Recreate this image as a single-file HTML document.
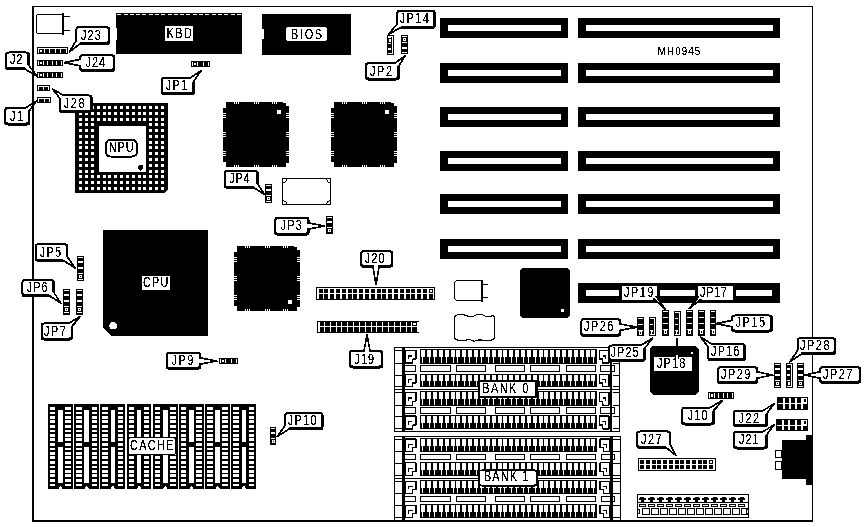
<!DOCTYPE html>
<html><head><meta charset="utf-8"><title>MH0945</title>
<style>
html,body{margin:0;padding:0;background:#fff;}
body{width:867px;height:527px;overflow:hidden;font-family:"Liberation Sans",sans-serif;}
svg{display:block;}
svg text{font-family:"Liberation Sans",sans-serif;fill:#000;}
</style></head><body>
<svg width="867" height="527" viewBox="0 0 867 527">
<defs><filter id="bw" x="0" y="0" width="100%" height="100%" filterUnits="userSpaceOnUse" color-interpolation-filters="sRGB"><feComponentTransfer><feFuncR type="discrete" tableValues="0 1"/><feFuncG type="discrete" tableValues="0 1"/><feFuncB type="discrete" tableValues="0 1"/></feComponentTransfer></filter>
<filter id="tw" x="0" y="0" width="100%" height="100%" filterUnits="userSpaceOnUse" color-interpolation-filters="sRGB"><feComponentTransfer><feFuncA type="discrete" tableValues="0 0 0 0 0 0 0 0 1 1 1 1 1 1 1 1 1 1 1 1"/></feComponentTransfer></filter></defs>
<g filter="url(#bw)">
<rect x="0" y="0" width="867" height="527" fill="#fff"/>
<rect x="32" y="6" width="781" height="1" fill="#000" />
<rect x="32" y="6" width="2" height="516" fill="#000" />
<rect x="812" y="6" width="1" height="516" fill="#000" />
<rect x="32" y="520" width="781" height="2" fill="#000" />
<rect x="440" y="18" width="128" height="20" fill="#000" />
<rect x="448" y="25" width="113" height="6" fill="#fff" />
<rect x="578" y="18" width="202" height="20" fill="#000" />
<rect x="586" y="25" width="187" height="6" fill="#fff" />
<rect x="440" y="63" width="128" height="20" fill="#000" />
<rect x="448" y="70" width="113" height="6" fill="#fff" />
<rect x="578" y="63" width="202" height="20" fill="#000" />
<rect x="586" y="70" width="187" height="6" fill="#fff" />
<rect x="440" y="107" width="128" height="20" fill="#000" />
<rect x="448" y="114" width="113" height="6" fill="#fff" />
<rect x="578" y="107" width="202" height="20" fill="#000" />
<rect x="586" y="114" width="187" height="6" fill="#fff" />
<rect x="440" y="151" width="128" height="20" fill="#000" />
<rect x="448" y="158" width="113" height="6" fill="#fff" />
<rect x="578" y="151" width="202" height="20" fill="#000" />
<rect x="586" y="158" width="187" height="6" fill="#fff" />
<rect x="440" y="194" width="128" height="20" fill="#000" />
<rect x="448" y="201" width="113" height="6" fill="#fff" />
<rect x="578" y="194" width="202" height="20" fill="#000" />
<rect x="586" y="201" width="187" height="6" fill="#fff" />
<rect x="440" y="239" width="128" height="20" fill="#000" />
<rect x="448" y="246" width="113" height="6" fill="#fff" />
<rect x="578" y="239" width="202" height="20" fill="#000" />
<rect x="586" y="246" width="187" height="6" fill="#fff" />
<rect x="578" y="283" width="202" height="20" fill="#000" />
<rect x="586" y="290" width="33" height="6" fill="#fff" />
<rect x="660" y="290" width="35" height="6" fill="#fff" />
<rect x="736" y="290" width="36" height="6" fill="#fff" />
<rect x="36.50" y="14.50" width="26.00" height="19.00" fill="#fff" stroke="#000" stroke-width="1" rx="1"/>
<rect x="62" y="13" width="2" height="22" fill="#000" />
<rect x="64" y="16" width="6" height="1" fill="#000" />
<rect x="64" y="30" width="6" height="1" fill="#000" />
<rect x="37" y="47" width="31" height="7" fill="#000" />
<rect x="38" y="48" width="29" height="1" fill="#fff" />
<rect x="38" y="48" width="1" height="5" fill="#fff" />
<rect x="44" y="48" width="1" height="5" fill="#fff" />
<rect x="49" y="48" width="1" height="5" fill="#fff" />
<rect x="55" y="48" width="1" height="5" fill="#fff" />
<rect x="60" y="48" width="1" height="5" fill="#fff" />
<rect x="66" y="48" width="1" height="5" fill="#fff" />
<rect x="40" y="50" width="2" height="2" fill="#fff" />
<rect x="37" y="60" width="26" height="6" fill="#000" />
<rect x="38" y="61" width="1" height="4" fill="#fff" />
<rect x="43" y="61" width="1" height="4" fill="#fff" />
<rect x="47" y="61" width="1" height="4" fill="#fff" />
<rect x="52" y="61" width="1" height="4" fill="#fff" />
<rect x="56" y="61" width="1" height="4" fill="#fff" />
<rect x="61" y="61" width="1" height="4" fill="#fff" />
<rect x="40" y="62" width="2" height="2" fill="#fff" />
<rect x="37" y="72" width="26" height="6" fill="#000" />
<rect x="38" y="73" width="1" height="4" fill="#fff" />
<rect x="43" y="73" width="1" height="4" fill="#fff" />
<rect x="47" y="73" width="1" height="4" fill="#fff" />
<rect x="52" y="73" width="1" height="4" fill="#fff" />
<rect x="56" y="73" width="1" height="4" fill="#fff" />
<rect x="61" y="73" width="1" height="4" fill="#fff" />
<rect x="40" y="74" width="2" height="2" fill="#fff" />
<rect x="37" y="85" width="13" height="6" fill="#000" />
<rect x="38" y="86" width="11" height="1" fill="#fff" />
<rect x="38" y="86" width="1" height="4" fill="#fff" />
<rect x="43" y="86" width="1" height="4" fill="#fff" />
<rect x="48" y="86" width="1" height="4" fill="#fff" />
<rect x="37" y="97" width="14" height="6" fill="#000" />
<rect x="38" y="98" width="12" height="1" fill="#fff" />
<rect x="38" y="98" width="1" height="4" fill="#fff" />
<rect x="44" y="98" width="1" height="4" fill="#fff" />
<rect x="49" y="98" width="1" height="4" fill="#fff" />
<rect x="191" y="61" width="19" height="6" fill="#000" />
<rect x="192" y="62" width="1" height="4" fill="#fff" />
<rect x="197" y="62" width="1" height="4" fill="#fff" />
<rect x="203" y="62" width="1" height="4" fill="#fff" />
<rect x="208" y="62" width="1" height="4" fill="#fff" />
<rect x="194" y="63" width="2" height="2" fill="#fff" />
<rect x="116" y="13" width="126" height="41" fill="#000" />
<rect x="117" y="14" width="4" height="1" fill="#fff" />
<rect x="124" y="14" width="4" height="1" fill="#fff" />
<rect x="130" y="14" width="4" height="1" fill="#fff" />
<rect x="136" y="14" width="4" height="1" fill="#fff" />
<rect x="142" y="14" width="4" height="1" fill="#fff" />
<rect x="149" y="14" width="4" height="1" fill="#fff" />
<rect x="155" y="14" width="4" height="1" fill="#fff" />
<rect x="161" y="14" width="4" height="1" fill="#fff" />
<rect x="168" y="14" width="4" height="1" fill="#fff" />
<rect x="174" y="14" width="4" height="1" fill="#fff" />
<rect x="180" y="14" width="4" height="1" fill="#fff" />
<rect x="186" y="14" width="4" height="1" fill="#fff" />
<rect x="193" y="14" width="4" height="1" fill="#fff" />
<rect x="199" y="14" width="4" height="1" fill="#fff" />
<rect x="205" y="14" width="4" height="1" fill="#fff" />
<rect x="212" y="14" width="4" height="1" fill="#fff" />
<rect x="218" y="14" width="4" height="1" fill="#fff" />
<rect x="224" y="14" width="4" height="1" fill="#fff" />
<rect x="231" y="14" width="4" height="1" fill="#fff" />
<rect x="237" y="14" width="4" height="1" fill="#fff" />
<rect x="116" y="28" width="1" height="12" fill="#fff" />
<rect x="262" y="14" width="89" height="41" fill="#000" />
<rect x="262" y="29" width="2" height="10" fill="#fff" />
<polygon points="75,103 168,103 168,189.5 165,192.6 75,192.6" fill="#000"/>
<rect x="99" y="126" width="47" height="46" fill="#fff" />
<rect x="79" y="106" width="3" height="3" fill="#fff"/>
<rect x="85" y="106" width="3" height="3" fill="#fff"/>
<rect x="91" y="106" width="3" height="3" fill="#fff"/>
<rect x="97" y="106" width="3" height="3" fill="#fff"/>
<rect x="103" y="106" width="3" height="3" fill="#fff"/>
<rect x="108" y="106" width="3" height="3" fill="#fff"/>
<rect x="114" y="106" width="3" height="3" fill="#fff"/>
<rect x="120" y="106" width="3" height="3" fill="#fff"/>
<rect x="126" y="106" width="3" height="3" fill="#fff"/>
<rect x="132" y="106" width="3" height="3" fill="#fff"/>
<rect x="138" y="106" width="3" height="3" fill="#fff"/>
<rect x="143" y="106" width="3" height="3" fill="#fff"/>
<rect x="149" y="106" width="3" height="3" fill="#fff"/>
<rect x="155" y="106" width="3" height="3" fill="#fff"/>
<rect x="161" y="106" width="3" height="3" fill="#fff"/>
<rect x="79" y="112" width="3" height="3" fill="#fff"/>
<rect x="85" y="112" width="3" height="3" fill="#fff"/>
<rect x="91" y="112" width="3" height="3" fill="#fff"/>
<rect x="97" y="112" width="3" height="3" fill="#fff"/>
<rect x="103" y="112" width="3" height="3" fill="#fff"/>
<rect x="108" y="112" width="3" height="3" fill="#fff"/>
<rect x="114" y="112" width="3" height="3" fill="#fff"/>
<rect x="120" y="112" width="3" height="3" fill="#fff"/>
<rect x="126" y="112" width="3" height="3" fill="#fff"/>
<rect x="132" y="112" width="3" height="3" fill="#fff"/>
<rect x="138" y="112" width="3" height="3" fill="#fff"/>
<rect x="143" y="112" width="3" height="3" fill="#fff"/>
<rect x="149" y="112" width="3" height="3" fill="#fff"/>
<rect x="155" y="112" width="3" height="3" fill="#fff"/>
<rect x="161" y="112" width="3" height="3" fill="#fff"/>
<rect x="79" y="118" width="3" height="3" fill="#fff"/>
<rect x="85" y="118" width="3" height="3" fill="#fff"/>
<rect x="91" y="118" width="3" height="3" fill="#fff"/>
<rect x="97" y="118" width="3" height="3" fill="#fff"/>
<rect x="103" y="118" width="3" height="3" fill="#fff"/>
<rect x="108" y="118" width="3" height="3" fill="#fff"/>
<rect x="114" y="118" width="3" height="3" fill="#fff"/>
<rect x="120" y="118" width="3" height="3" fill="#fff"/>
<rect x="126" y="118" width="3" height="3" fill="#fff"/>
<rect x="132" y="118" width="3" height="3" fill="#fff"/>
<rect x="138" y="118" width="3" height="3" fill="#fff"/>
<rect x="143" y="118" width="3" height="3" fill="#fff"/>
<rect x="149" y="118" width="3" height="3" fill="#fff"/>
<rect x="155" y="118" width="3" height="3" fill="#fff"/>
<rect x="161" y="118" width="3" height="3" fill="#fff"/>
<rect x="79" y="123" width="3" height="3" fill="#fff"/>
<rect x="85" y="123" width="3" height="3" fill="#fff"/>
<rect x="91" y="123" width="3" height="3" fill="#fff"/>
<rect x="149" y="123" width="3" height="3" fill="#fff"/>
<rect x="155" y="123" width="3" height="3" fill="#fff"/>
<rect x="161" y="123" width="3" height="3" fill="#fff"/>
<rect x="79" y="129" width="3" height="3" fill="#fff"/>
<rect x="85" y="129" width="3" height="3" fill="#fff"/>
<rect x="91" y="129" width="3" height="3" fill="#fff"/>
<rect x="149" y="129" width="3" height="3" fill="#fff"/>
<rect x="155" y="129" width="3" height="3" fill="#fff"/>
<rect x="161" y="129" width="3" height="3" fill="#fff"/>
<rect x="79" y="135" width="3" height="3" fill="#fff"/>
<rect x="85" y="135" width="3" height="3" fill="#fff"/>
<rect x="91" y="135" width="3" height="3" fill="#fff"/>
<rect x="149" y="135" width="3" height="3" fill="#fff"/>
<rect x="155" y="135" width="3" height="3" fill="#fff"/>
<rect x="161" y="135" width="3" height="3" fill="#fff"/>
<rect x="79" y="141" width="3" height="3" fill="#fff"/>
<rect x="85" y="141" width="3" height="3" fill="#fff"/>
<rect x="91" y="141" width="3" height="3" fill="#fff"/>
<rect x="149" y="141" width="3" height="3" fill="#fff"/>
<rect x="155" y="141" width="3" height="3" fill="#fff"/>
<rect x="161" y="141" width="3" height="3" fill="#fff"/>
<rect x="79" y="146" width="3" height="3" fill="#fff"/>
<rect x="85" y="146" width="3" height="3" fill="#fff"/>
<rect x="91" y="146" width="3" height="3" fill="#fff"/>
<rect x="149" y="146" width="3" height="3" fill="#fff"/>
<rect x="155" y="146" width="3" height="3" fill="#fff"/>
<rect x="161" y="146" width="3" height="3" fill="#fff"/>
<rect x="79" y="152" width="3" height="3" fill="#fff"/>
<rect x="85" y="152" width="3" height="3" fill="#fff"/>
<rect x="91" y="152" width="3" height="3" fill="#fff"/>
<rect x="149" y="152" width="3" height="3" fill="#fff"/>
<rect x="155" y="152" width="3" height="3" fill="#fff"/>
<rect x="161" y="152" width="3" height="3" fill="#fff"/>
<rect x="79" y="158" width="3" height="3" fill="#fff"/>
<rect x="85" y="158" width="3" height="3" fill="#fff"/>
<rect x="91" y="158" width="3" height="3" fill="#fff"/>
<rect x="149" y="158" width="3" height="3" fill="#fff"/>
<rect x="155" y="158" width="3" height="3" fill="#fff"/>
<rect x="161" y="158" width="3" height="3" fill="#fff"/>
<rect x="79" y="164" width="3" height="3" fill="#fff"/>
<rect x="85" y="164" width="3" height="3" fill="#fff"/>
<rect x="91" y="164" width="3" height="3" fill="#fff"/>
<rect x="149" y="164" width="3" height="3" fill="#fff"/>
<rect x="155" y="164" width="3" height="3" fill="#fff"/>
<rect x="161" y="164" width="3" height="3" fill="#fff"/>
<rect x="79" y="170" width="3" height="3" fill="#fff"/>
<rect x="85" y="170" width="3" height="3" fill="#fff"/>
<rect x="91" y="170" width="3" height="3" fill="#fff"/>
<rect x="149" y="170" width="3" height="3" fill="#fff"/>
<rect x="155" y="170" width="3" height="3" fill="#fff"/>
<rect x="161" y="170" width="3" height="3" fill="#fff"/>
<rect x="79" y="175" width="3" height="3" fill="#fff"/>
<rect x="85" y="175" width="3" height="3" fill="#fff"/>
<rect x="91" y="175" width="3" height="3" fill="#fff"/>
<rect x="97" y="175" width="3" height="3" fill="#fff"/>
<rect x="103" y="175" width="3" height="3" fill="#fff"/>
<rect x="108" y="175" width="3" height="3" fill="#fff"/>
<rect x="114" y="175" width="3" height="3" fill="#fff"/>
<rect x="120" y="175" width="3" height="3" fill="#fff"/>
<rect x="126" y="175" width="3" height="3" fill="#fff"/>
<rect x="132" y="175" width="3" height="3" fill="#fff"/>
<rect x="138" y="175" width="3" height="3" fill="#fff"/>
<rect x="143" y="175" width="3" height="3" fill="#fff"/>
<rect x="149" y="175" width="3" height="3" fill="#fff"/>
<rect x="155" y="175" width="3" height="3" fill="#fff"/>
<rect x="161" y="175" width="3" height="3" fill="#fff"/>
<rect x="79" y="181" width="3" height="3" fill="#fff"/>
<rect x="85" y="181" width="3" height="3" fill="#fff"/>
<rect x="91" y="181" width="3" height="3" fill="#fff"/>
<rect x="97" y="181" width="3" height="3" fill="#fff"/>
<rect x="103" y="181" width="3" height="3" fill="#fff"/>
<rect x="108" y="181" width="3" height="3" fill="#fff"/>
<rect x="114" y="181" width="3" height="3" fill="#fff"/>
<rect x="120" y="181" width="3" height="3" fill="#fff"/>
<rect x="126" y="181" width="3" height="3" fill="#fff"/>
<rect x="132" y="181" width="3" height="3" fill="#fff"/>
<rect x="138" y="181" width="3" height="3" fill="#fff"/>
<rect x="143" y="181" width="3" height="3" fill="#fff"/>
<rect x="149" y="181" width="3" height="3" fill="#fff"/>
<rect x="155" y="181" width="3" height="3" fill="#fff"/>
<rect x="161" y="181" width="3" height="3" fill="#fff"/>
<rect x="79" y="187" width="3" height="3" fill="#fff"/>
<rect x="85" y="187" width="3" height="3" fill="#fff"/>
<rect x="91" y="187" width="3" height="3" fill="#fff"/>
<rect x="97" y="187" width="3" height="3" fill="#fff"/>
<rect x="103" y="187" width="3" height="3" fill="#fff"/>
<rect x="108" y="187" width="3" height="3" fill="#fff"/>
<rect x="114" y="187" width="3" height="3" fill="#fff"/>
<rect x="120" y="187" width="3" height="3" fill="#fff"/>
<rect x="126" y="187" width="3" height="3" fill="#fff"/>
<rect x="132" y="187" width="3" height="3" fill="#fff"/>
<rect x="138" y="187" width="3" height="3" fill="#fff"/>
<rect x="143" y="187" width="3" height="3" fill="#fff"/>
<rect x="149" y="187" width="3" height="3" fill="#fff"/>
<rect x="155" y="187" width="3" height="3" fill="#fff"/>
<rect x="161" y="187" width="3" height="3" fill="#fff"/>
<polygon points="138.4,165.4 143.2,165.4 143.2,168.4 141.2,170.6 139.6,170.6 138.4,168.6" fill="#000"/>
<polygon points="226,102 283,102 283,103 286,103 286,106 289,106 289,163 286,163 286,167 226,167 226,162 223,162 223,108 226,108" fill="#000"/>
<rect x="234" y="102" width="1" height="2" fill="#fff" />
<rect x="234" y="165" width="1" height="2" fill="#fff" />
<rect x="223" y="113" width="3" height="1" fill="#fff" />
<rect x="286" y="113" width="3" height="1" fill="#fff" />
<rect x="236" y="102" width="1" height="2" fill="#fff" />
<rect x="236" y="165" width="1" height="2" fill="#fff" />
<rect x="223" y="115" width="3" height="1" fill="#fff" />
<rect x="286" y="115" width="3" height="1" fill="#fff" />
<rect x="238" y="102" width="1" height="2" fill="#fff" />
<rect x="238" y="165" width="1" height="2" fill="#fff" />
<rect x="223" y="117" width="3" height="1" fill="#fff" />
<rect x="286" y="117" width="3" height="1" fill="#fff" />
<rect x="254" y="102" width="1" height="2" fill="#fff" />
<rect x="254" y="165" width="1" height="2" fill="#fff" />
<rect x="223" y="132" width="3" height="1" fill="#fff" />
<rect x="286" y="132" width="3" height="1" fill="#fff" />
<rect x="256" y="102" width="1" height="2" fill="#fff" />
<rect x="256" y="165" width="1" height="2" fill="#fff" />
<rect x="223" y="134" width="3" height="1" fill="#fff" />
<rect x="286" y="134" width="3" height="1" fill="#fff" />
<rect x="258" y="102" width="1" height="2" fill="#fff" />
<rect x="258" y="165" width="1" height="2" fill="#fff" />
<rect x="223" y="136" width="3" height="1" fill="#fff" />
<rect x="286" y="136" width="3" height="1" fill="#fff" />
<rect x="272" y="102" width="1" height="2" fill="#fff" />
<rect x="272" y="165" width="1" height="2" fill="#fff" />
<rect x="223" y="151" width="3" height="1" fill="#fff" />
<rect x="286" y="151" width="3" height="1" fill="#fff" />
<rect x="274" y="102" width="1" height="2" fill="#fff" />
<rect x="274" y="165" width="1" height="2" fill="#fff" />
<rect x="223" y="153" width="3" height="1" fill="#fff" />
<rect x="286" y="153" width="3" height="1" fill="#fff" />
<rect x="276" y="102" width="1" height="2" fill="#fff" />
<rect x="276" y="165" width="1" height="2" fill="#fff" />
<rect x="223" y="155" width="3" height="1" fill="#fff" />
<rect x="286" y="155" width="3" height="1" fill="#fff" />
<rect x="277" y="110" width="4" height="4" fill="#fff" />
<polygon points="334,102 391,102 391,103 394,103 394,106 397,106 397,163 394,163 394,167 334,167 334,162 331,162 331,108 334,108" fill="#000"/>
<rect x="342" y="102" width="1" height="2" fill="#fff" />
<rect x="342" y="165" width="1" height="2" fill="#fff" />
<rect x="331" y="113" width="3" height="1" fill="#fff" />
<rect x="394" y="113" width="3" height="1" fill="#fff" />
<rect x="344" y="102" width="1" height="2" fill="#fff" />
<rect x="344" y="165" width="1" height="2" fill="#fff" />
<rect x="331" y="115" width="3" height="1" fill="#fff" />
<rect x="394" y="115" width="3" height="1" fill="#fff" />
<rect x="346" y="102" width="1" height="2" fill="#fff" />
<rect x="346" y="165" width="1" height="2" fill="#fff" />
<rect x="331" y="117" width="3" height="1" fill="#fff" />
<rect x="394" y="117" width="3" height="1" fill="#fff" />
<rect x="362" y="102" width="1" height="2" fill="#fff" />
<rect x="362" y="165" width="1" height="2" fill="#fff" />
<rect x="331" y="132" width="3" height="1" fill="#fff" />
<rect x="394" y="132" width="3" height="1" fill="#fff" />
<rect x="364" y="102" width="1" height="2" fill="#fff" />
<rect x="364" y="165" width="1" height="2" fill="#fff" />
<rect x="331" y="134" width="3" height="1" fill="#fff" />
<rect x="394" y="134" width="3" height="1" fill="#fff" />
<rect x="366" y="102" width="1" height="2" fill="#fff" />
<rect x="366" y="165" width="1" height="2" fill="#fff" />
<rect x="331" y="136" width="3" height="1" fill="#fff" />
<rect x="394" y="136" width="3" height="1" fill="#fff" />
<rect x="380" y="102" width="1" height="2" fill="#fff" />
<rect x="380" y="165" width="1" height="2" fill="#fff" />
<rect x="331" y="151" width="3" height="1" fill="#fff" />
<rect x="394" y="151" width="3" height="1" fill="#fff" />
<rect x="382" y="102" width="1" height="2" fill="#fff" />
<rect x="382" y="165" width="1" height="2" fill="#fff" />
<rect x="331" y="153" width="3" height="1" fill="#fff" />
<rect x="394" y="153" width="3" height="1" fill="#fff" />
<rect x="384" y="102" width="1" height="2" fill="#fff" />
<rect x="384" y="165" width="1" height="2" fill="#fff" />
<rect x="331" y="155" width="3" height="1" fill="#fff" />
<rect x="394" y="155" width="3" height="1" fill="#fff" />
<rect x="385" y="110" width="4" height="4" fill="#fff" />
<polygon points="237,246 294,246 294,247 297,247 297,250 300,250 300,307 297,307 297,311 237,311 237,306 234,306 234,252 237,252" fill="#000"/>
<rect x="245" y="246" width="1" height="2" fill="#fff" />
<rect x="245" y="309" width="1" height="2" fill="#fff" />
<rect x="234" y="257" width="3" height="1" fill="#fff" />
<rect x="297" y="257" width="3" height="1" fill="#fff" />
<rect x="247" y="246" width="1" height="2" fill="#fff" />
<rect x="247" y="309" width="1" height="2" fill="#fff" />
<rect x="234" y="259" width="3" height="1" fill="#fff" />
<rect x="297" y="259" width="3" height="1" fill="#fff" />
<rect x="249" y="246" width="1" height="2" fill="#fff" />
<rect x="249" y="309" width="1" height="2" fill="#fff" />
<rect x="234" y="261" width="3" height="1" fill="#fff" />
<rect x="297" y="261" width="3" height="1" fill="#fff" />
<rect x="265" y="246" width="1" height="2" fill="#fff" />
<rect x="265" y="309" width="1" height="2" fill="#fff" />
<rect x="234" y="276" width="3" height="1" fill="#fff" />
<rect x="297" y="276" width="3" height="1" fill="#fff" />
<rect x="267" y="246" width="1" height="2" fill="#fff" />
<rect x="267" y="309" width="1" height="2" fill="#fff" />
<rect x="234" y="278" width="3" height="1" fill="#fff" />
<rect x="297" y="278" width="3" height="1" fill="#fff" />
<rect x="269" y="246" width="1" height="2" fill="#fff" />
<rect x="269" y="309" width="1" height="2" fill="#fff" />
<rect x="234" y="280" width="3" height="1" fill="#fff" />
<rect x="297" y="280" width="3" height="1" fill="#fff" />
<rect x="283" y="246" width="1" height="2" fill="#fff" />
<rect x="283" y="309" width="1" height="2" fill="#fff" />
<rect x="234" y="295" width="3" height="1" fill="#fff" />
<rect x="297" y="295" width="3" height="1" fill="#fff" />
<rect x="285" y="246" width="1" height="2" fill="#fff" />
<rect x="285" y="309" width="1" height="2" fill="#fff" />
<rect x="234" y="297" width="3" height="1" fill="#fff" />
<rect x="297" y="297" width="3" height="1" fill="#fff" />
<rect x="287" y="246" width="1" height="2" fill="#fff" />
<rect x="287" y="309" width="1" height="2" fill="#fff" />
<rect x="234" y="299" width="3" height="1" fill="#fff" />
<rect x="297" y="299" width="3" height="1" fill="#fff" />
<rect x="288" y="300" width="4" height="4" fill="#fff" />
<rect x="282.50" y="178.50" width="48.00" height="26.00" fill="#fff" stroke="#000" stroke-width="1" rx="0"/>
<path d="M286.5,179 A3.5,3.5 0 0 1 283,182.5" stroke="#000" stroke-width="1" fill="none"/>
<path d="M326.5,179 A3.5,3.5 0 0 0 330,182.5" stroke="#000" stroke-width="1" fill="none"/>
<path d="M286.5,204 A3.5,3.5 0 0 0 283,200.5" stroke="#000" stroke-width="1" fill="none"/>
<path d="M326.5,204 A3.5,3.5 0 0 1 330,200.5" stroke="#000" stroke-width="1" fill="none"/>
<polygon points="103,230 208.2,230 208.2,336.2 112,336.2 103,327.5" fill="#000"/>
<circle cx="113.2" cy="325.8" r="3.8" fill="#fff"/>
<rect x="387" y="35" width="7" height="20" fill="#000" />
<rect x="388" y="53" width="3" height="1" fill="#fff" />
<rect x="388" y="48" width="3" height="2" fill="#fff" />
<rect x="388" y="43" width="3" height="1" fill="#fff" />
<rect x="389" y="39" width="2" height="3" fill="#fff" />
<rect x="388" y="37" width="3" height="1" fill="#fff" />
<rect x="392" y="36" width="1" height="18" fill="#fff" />
<rect x="388" y="36" width="5" height="1" fill="#fff" />
<rect x="388" y="53" width="5" height="1" fill="#fff" />
<rect x="401" y="35" width="7" height="19" fill="#000" />
<rect x="402" y="52" width="5" height="1" fill="#fff" />
<rect x="402" y="47" width="5" height="2" fill="#fff" />
<rect x="402" y="42" width="5" height="1" fill="#fff" />
<rect x="403" y="38" width="3" height="3" fill="#fff" />
<rect x="404" y="39" width="1" height="1" fill="#000" />
<rect x="402" y="36" width="5" height="1" fill="#fff" />
<rect x="265" y="184" width="7" height="19" fill="#000" />
<rect x="266" y="185" width="5" height="1" fill="#fff" />
<rect x="266" y="189" width="5" height="2" fill="#fff" />
<rect x="266" y="195" width="5" height="1" fill="#fff" />
<rect x="267" y="197" width="3" height="3" fill="#fff" />
<rect x="268" y="198" width="1" height="1" fill="#000" />
<rect x="266" y="201" width="5" height="1" fill="#fff" />
<rect x="326" y="216" width="7" height="18" fill="#000" />
<rect x="327" y="217" width="5" height="1" fill="#fff" />
<rect x="327" y="221" width="5" height="2" fill="#fff" />
<rect x="327" y="227" width="5" height="1" fill="#fff" />
<rect x="328" y="229" width="3" height="3" fill="#fff" />
<rect x="329" y="230" width="1" height="1" fill="#000" />
<rect x="77" y="256" width="7" height="25" fill="#000" />
<rect x="78" y="257" width="5" height="1" fill="#fff" />
<rect x="78" y="261" width="5" height="2" fill="#fff" />
<rect x="78" y="267" width="5" height="2" fill="#fff" />
<rect x="78" y="273" width="5" height="1" fill="#fff" />
<rect x="79" y="275" width="3" height="3" fill="#fff" />
<rect x="80" y="276" width="1" height="1" fill="#000" />
<rect x="78" y="279" width="5" height="1" fill="#fff" />
<rect x="63" y="289" width="7" height="26" fill="#000" />
<rect x="64" y="290" width="5" height="1" fill="#fff" />
<rect x="64" y="294" width="5" height="2" fill="#fff" />
<rect x="64" y="300" width="5" height="2" fill="#fff" />
<rect x="64" y="306" width="5" height="1" fill="#fff" />
<rect x="65" y="308" width="3" height="3" fill="#fff" />
<rect x="66" y="309" width="1" height="1" fill="#000" />
<rect x="64" y="312" width="5" height="1" fill="#fff" />
<rect x="76" y="289" width="7" height="26" fill="#000" />
<rect x="77" y="290" width="5" height="1" fill="#fff" />
<rect x="77" y="294" width="5" height="2" fill="#fff" />
<rect x="77" y="300" width="5" height="2" fill="#fff" />
<rect x="77" y="306" width="5" height="1" fill="#fff" />
<rect x="78" y="308" width="3" height="3" fill="#fff" />
<rect x="79" y="309" width="1" height="1" fill="#000" />
<rect x="77" y="312" width="5" height="1" fill="#fff" />
<rect x="219" y="358" width="19" height="6" fill="#000" />
<rect x="220" y="359" width="1" height="4" fill="#fff" />
<rect x="225" y="359" width="1" height="4" fill="#fff" />
<rect x="231" y="359" width="1" height="4" fill="#fff" />
<rect x="236" y="359" width="1" height="4" fill="#fff" />
<rect x="222" y="360" width="2" height="2" fill="#fff" />
<rect x="270" y="427" width="6" height="18" fill="#000" />
<rect x="271" y="428" width="4" height="1" fill="#fff" />
<rect x="271" y="432" width="4" height="2" fill="#fff" />
<rect x="271" y="438" width="4" height="1" fill="#fff" />
<rect x="272" y="440" width="3" height="3" fill="#fff" />
<rect x="273" y="441" width="1" height="1" fill="#000" />
<rect x="637" y="317" width="7" height="19" fill="#000" />
<rect x="638" y="318" width="5" height="1" fill="#fff" />
<rect x="638" y="324" width="5" height="1" fill="#fff" />
<rect x="638" y="330" width="5" height="1" fill="#fff" />
<rect x="639" y="331" width="3" height="4" fill="#fff" />
<rect x="640" y="332" width="1" height="2" fill="#000" />
<rect x="649" y="317" width="7" height="19" fill="#000" />
<rect x="650" y="318" width="3" height="1" fill="#fff" />
<rect x="650" y="324" width="3" height="1" fill="#fff" />
<rect x="650" y="330" width="3" height="1" fill="#fff" />
<rect x="651" y="331" width="2" height="4" fill="#fff" />
<rect x="652" y="332" width="1" height="2" fill="#000" />
<rect x="654" y="318" width="1" height="17" fill="#fff" />
<rect x="650" y="318" width="5" height="1" fill="#fff" />
<rect x="650" y="334" width="5" height="1" fill="#fff" />
<rect x="662" y="310" width="7" height="26" fill="#000" />
<rect x="663" y="311" width="5" height="1" fill="#fff" />
<rect x="663" y="317" width="5" height="1" fill="#fff" />
<rect x="663" y="323" width="5" height="1" fill="#fff" />
<rect x="663" y="329" width="5" height="1" fill="#fff" />
<rect x="664" y="330" width="3" height="4" fill="#fff" />
<rect x="665" y="331" width="1" height="2" fill="#000" />
<rect x="674" y="311" width="7" height="25" fill="#000" />
<rect x="675" y="312" width="3" height="1" fill="#fff" />
<rect x="675" y="318" width="3" height="1" fill="#fff" />
<rect x="675" y="324" width="3" height="1" fill="#fff" />
<rect x="675" y="330" width="3" height="1" fill="#fff" />
<rect x="676" y="331" width="2" height="4" fill="#fff" />
<rect x="677" y="332" width="1" height="2" fill="#000" />
<rect x="679" y="312" width="1" height="23" fill="#fff" />
<rect x="675" y="312" width="5" height="1" fill="#fff" />
<rect x="675" y="334" width="5" height="1" fill="#fff" />
<rect x="686" y="310" width="7" height="26" fill="#000" />
<rect x="687" y="311" width="5" height="1" fill="#fff" />
<rect x="687" y="317" width="5" height="1" fill="#fff" />
<rect x="687" y="323" width="5" height="1" fill="#fff" />
<rect x="687" y="329" width="5" height="1" fill="#fff" />
<rect x="688" y="330" width="3" height="4" fill="#fff" />
<rect x="689" y="331" width="1" height="2" fill="#000" />
<rect x="698" y="310" width="7" height="26" fill="#000" />
<rect x="699" y="311" width="5" height="1" fill="#fff" />
<rect x="699" y="317" width="5" height="1" fill="#fff" />
<rect x="699" y="323" width="5" height="1" fill="#fff" />
<rect x="699" y="329" width="5" height="1" fill="#fff" />
<rect x="700" y="330" width="3" height="4" fill="#fff" />
<rect x="701" y="331" width="1" height="2" fill="#000" />
<rect x="710" y="310" width="6" height="26" fill="#000" />
<rect x="711" y="311" width="4" height="1" fill="#fff" />
<rect x="711" y="317" width="4" height="1" fill="#fff" />
<rect x="711" y="323" width="4" height="1" fill="#fff" />
<rect x="711" y="329" width="4" height="1" fill="#fff" />
<rect x="712" y="330" width="3" height="4" fill="#fff" />
<rect x="713" y="331" width="1" height="2" fill="#000" />
<rect x="774" y="363" width="7" height="25" fill="#000" />
<rect x="775" y="364" width="5" height="1" fill="#fff" />
<rect x="775" y="368" width="5" height="2" fill="#fff" />
<rect x="775" y="374" width="5" height="2" fill="#fff" />
<rect x="775" y="380" width="5" height="1" fill="#fff" />
<rect x="776" y="382" width="3" height="3" fill="#fff" />
<rect x="777" y="383" width="1" height="1" fill="#000" />
<rect x="775" y="386" width="5" height="1" fill="#fff" />
<rect x="786" y="363" width="7" height="25" fill="#000" />
<rect x="787" y="364" width="3" height="1" fill="#fff" />
<rect x="787" y="368" width="3" height="2" fill="#fff" />
<rect x="787" y="374" width="3" height="2" fill="#fff" />
<rect x="787" y="380" width="3" height="1" fill="#fff" />
<rect x="788" y="382" width="2" height="3" fill="#fff" />
<rect x="787" y="386" width="3" height="1" fill="#fff" />
<rect x="791" y="364" width="1" height="23" fill="#fff" />
<rect x="787" y="364" width="5" height="1" fill="#fff" />
<rect x="787" y="386" width="5" height="1" fill="#fff" />
<rect x="797" y="363" width="7" height="25" fill="#000" />
<rect x="798" y="364" width="5" height="1" fill="#fff" />
<rect x="798" y="368" width="5" height="2" fill="#fff" />
<rect x="798" y="374" width="5" height="2" fill="#fff" />
<rect x="798" y="380" width="5" height="1" fill="#fff" />
<rect x="799" y="382" width="3" height="3" fill="#fff" />
<rect x="800" y="383" width="1" height="1" fill="#000" />
<rect x="798" y="386" width="5" height="1" fill="#fff" />
<rect x="316" y="287" width="119" height="13" fill="#000" />
<rect x="317" y="288" width="117" height="11" fill="#fff" />
<rect x="319" y="289" width="4" height="4" fill="#000" />
<rect x="319" y="294" width="4" height="5" fill="#000" />
<rect x="324" y="289" width="4" height="4" fill="#000" />
<rect x="324" y="294" width="4" height="5" fill="#000" />
<rect x="330" y="289" width="4" height="4" fill="#000" />
<rect x="330" y="294" width="4" height="5" fill="#000" />
<rect x="336" y="289" width="4" height="4" fill="#000" />
<rect x="336" y="294" width="4" height="5" fill="#000" />
<rect x="342" y="289" width="4" height="4" fill="#000" />
<rect x="342" y="294" width="4" height="5" fill="#000" />
<rect x="348" y="289" width="4" height="4" fill="#000" />
<rect x="348" y="294" width="4" height="5" fill="#000" />
<rect x="353" y="289" width="4" height="4" fill="#000" />
<rect x="353" y="294" width="4" height="5" fill="#000" />
<rect x="359" y="289" width="4" height="4" fill="#000" />
<rect x="359" y="294" width="4" height="5" fill="#000" />
<rect x="365" y="289" width="4" height="4" fill="#000" />
<rect x="365" y="294" width="4" height="5" fill="#000" />
<rect x="371" y="289" width="4" height="4" fill="#000" />
<rect x="371" y="294" width="4" height="5" fill="#000" />
<rect x="377" y="289" width="4" height="4" fill="#000" />
<rect x="377" y="294" width="4" height="5" fill="#000" />
<rect x="382" y="289" width="4" height="4" fill="#000" />
<rect x="382" y="294" width="4" height="5" fill="#000" />
<rect x="388" y="289" width="4" height="4" fill="#000" />
<rect x="388" y="294" width="4" height="5" fill="#000" />
<rect x="394" y="289" width="4" height="4" fill="#000" />
<rect x="394" y="294" width="4" height="5" fill="#000" />
<rect x="400" y="289" width="4" height="4" fill="#000" />
<rect x="400" y="294" width="4" height="5" fill="#000" />
<rect x="406" y="289" width="4" height="4" fill="#000" />
<rect x="406" y="294" width="4" height="5" fill="#000" />
<rect x="411" y="289" width="4" height="4" fill="#000" />
<rect x="411" y="294" width="4" height="5" fill="#000" />
<rect x="417" y="289" width="4" height="4" fill="#000" />
<rect x="417" y="294" width="4" height="5" fill="#000" />
<rect x="423" y="289" width="4" height="4" fill="#000" />
<rect x="423" y="294" width="4" height="5" fill="#000" />
<rect x="429" y="289" width="4" height="4" fill="#000" />
<rect x="429" y="294" width="4" height="5" fill="#000" />
<rect x="430" y="290" width="2" height="2" fill="#fff" />
<rect x="317" y="321" width="102" height="12" fill="#000" />
<rect x="318" y="322" width="2" height="10" fill="#fff" />
<rect x="324" y="322" width="1" height="10" fill="#fff" />
<rect x="330" y="322" width="1" height="10" fill="#fff" />
<rect x="336" y="322" width="1" height="10" fill="#fff" />
<rect x="341" y="322" width="1" height="10" fill="#fff" />
<rect x="347" y="322" width="1" height="10" fill="#fff" />
<rect x="353" y="322" width="1" height="10" fill="#fff" />
<rect x="359" y="322" width="1" height="10" fill="#fff" />
<rect x="365" y="322" width="1" height="10" fill="#fff" />
<rect x="371" y="322" width="1" height="10" fill="#fff" />
<rect x="376" y="322" width="1" height="10" fill="#fff" />
<rect x="382" y="322" width="1" height="10" fill="#fff" />
<rect x="388" y="322" width="1" height="10" fill="#fff" />
<rect x="394" y="322" width="1" height="10" fill="#fff" />
<rect x="400" y="322" width="1" height="10" fill="#fff" />
<rect x="406" y="322" width="1" height="10" fill="#fff" />
<rect x="411" y="322" width="1" height="10" fill="#fff" />
<rect x="417" y="322" width="2" height="10" fill="#fff" />
<rect x="318" y="326" width="100" height="1" fill="#fff" />
<rect x="413" y="323" width="3" height="2" fill="#fff" />
<rect x="520" y="268" width="50" height="50" rx="4" fill="#000"/>
<rect x="561" y="309" width="3" height="3" fill="#fff" />
<rect x="454.50" y="280.50" width="28.00" height="20.00" fill="#fff" stroke="#000" stroke-width="1" rx="3"/>
<rect x="481" y="280" width="2" height="22" fill="#000" />
<rect x="482" y="284" width="6" height="1" fill="#000" />
<rect x="482" y="297" width="6" height="1" fill="#000" />
<path d="M456,315.2 Q461,313.2 466,315.6 T475,315.4 T484,315.6 T493,315.2 Q495,317 494.6,320 L494.6,336 Q495,339 492.5,339.8 Q486,341.5 480,339.8 Q477,340 474.2,341.2 Q471,339.6 468,339.8 Q462,341.5 456.5,339.8 Q454,339 454.4,336 L454.4,320 Q454,316.5 456,315.2 Z" fill="#fff" stroke="#000" stroke-width="1.1"/>
<polygon points="652.4,346 695.2,346 699,349 699,391.8 696,394.8 653.4,394.8 650.4,391.8 650.4,348" fill="#000"/>
<rect x="691" y="352" width="2" height="2" fill="#fff" />
<rect x="48" y="404" width="25" height="85" fill="#000" />
<rect x="50" y="407" width="5" height="3" fill="#fff" />
<rect x="65" y="407" width="6" height="3" fill="#fff" />
<rect x="50" y="412" width="5" height="2" fill="#fff" />
<rect x="65" y="412" width="6" height="2" fill="#fff" />
<rect x="50" y="416" width="5" height="3" fill="#fff" />
<rect x="65" y="416" width="6" height="3" fill="#fff" />
<rect x="50" y="420" width="5" height="3" fill="#fff" />
<rect x="65" y="420" width="6" height="3" fill="#fff" />
<rect x="50" y="425" width="5" height="3" fill="#fff" />
<rect x="65" y="425" width="6" height="3" fill="#fff" />
<rect x="50" y="430" width="5" height="2" fill="#fff" />
<rect x="65" y="430" width="6" height="2" fill="#fff" />
<rect x="50" y="434" width="5" height="3" fill="#fff" />
<rect x="65" y="434" width="6" height="3" fill="#fff" />
<rect x="50" y="438" width="5" height="3" fill="#fff" />
<rect x="65" y="438" width="6" height="3" fill="#fff" />
<rect x="50" y="443" width="5" height="3" fill="#fff" />
<rect x="65" y="443" width="6" height="3" fill="#fff" />
<rect x="50" y="448" width="5" height="2" fill="#fff" />
<rect x="65" y="448" width="6" height="2" fill="#fff" />
<rect x="50" y="452" width="5" height="3" fill="#fff" />
<rect x="65" y="452" width="6" height="3" fill="#fff" />
<rect x="50" y="456" width="5" height="3" fill="#fff" />
<rect x="65" y="456" width="6" height="3" fill="#fff" />
<rect x="50" y="461" width="5" height="3" fill="#fff" />
<rect x="65" y="461" width="6" height="3" fill="#fff" />
<rect x="50" y="466" width="5" height="2" fill="#fff" />
<rect x="65" y="466" width="6" height="2" fill="#fff" />
<rect x="50" y="470" width="5" height="3" fill="#fff" />
<rect x="65" y="470" width="6" height="3" fill="#fff" />
<rect x="50" y="474" width="5" height="3" fill="#fff" />
<rect x="65" y="474" width="6" height="3" fill="#fff" />
<rect x="50" y="479" width="5" height="3" fill="#fff" />
<rect x="65" y="479" width="6" height="3" fill="#fff" />
<rect x="50" y="484" width="5" height="2" fill="#fff" />
<rect x="65" y="484" width="6" height="2" fill="#fff" />
<rect x="58" y="410" width="5" height="32" fill="#fff" />
<rect x="58" y="447" width="5" height="36" fill="#fff" />
<polygon points="58.2,488.8 60.5,485.40000000000003 62.8,488.8" fill="#fff"/>
<rect x="74" y="404" width="25" height="85" fill="#000" />
<rect x="76" y="407" width="6" height="3" fill="#fff" />
<rect x="92" y="407" width="5" height="3" fill="#fff" />
<rect x="76" y="412" width="6" height="2" fill="#fff" />
<rect x="92" y="412" width="5" height="2" fill="#fff" />
<rect x="76" y="416" width="6" height="3" fill="#fff" />
<rect x="92" y="416" width="5" height="3" fill="#fff" />
<rect x="76" y="420" width="6" height="3" fill="#fff" />
<rect x="92" y="420" width="5" height="3" fill="#fff" />
<rect x="76" y="425" width="6" height="3" fill="#fff" />
<rect x="92" y="425" width="5" height="3" fill="#fff" />
<rect x="76" y="430" width="6" height="2" fill="#fff" />
<rect x="92" y="430" width="5" height="2" fill="#fff" />
<rect x="76" y="434" width="6" height="3" fill="#fff" />
<rect x="92" y="434" width="5" height="3" fill="#fff" />
<rect x="76" y="438" width="6" height="3" fill="#fff" />
<rect x="92" y="438" width="5" height="3" fill="#fff" />
<rect x="76" y="443" width="6" height="3" fill="#fff" />
<rect x="92" y="443" width="5" height="3" fill="#fff" />
<rect x="76" y="448" width="6" height="2" fill="#fff" />
<rect x="92" y="448" width="5" height="2" fill="#fff" />
<rect x="76" y="452" width="6" height="3" fill="#fff" />
<rect x="92" y="452" width="5" height="3" fill="#fff" />
<rect x="76" y="456" width="6" height="3" fill="#fff" />
<rect x="92" y="456" width="5" height="3" fill="#fff" />
<rect x="76" y="461" width="6" height="3" fill="#fff" />
<rect x="92" y="461" width="5" height="3" fill="#fff" />
<rect x="76" y="466" width="6" height="2" fill="#fff" />
<rect x="92" y="466" width="5" height="2" fill="#fff" />
<rect x="76" y="470" width="6" height="3" fill="#fff" />
<rect x="92" y="470" width="5" height="3" fill="#fff" />
<rect x="76" y="474" width="6" height="3" fill="#fff" />
<rect x="92" y="474" width="5" height="3" fill="#fff" />
<rect x="76" y="479" width="6" height="3" fill="#fff" />
<rect x="92" y="479" width="5" height="3" fill="#fff" />
<rect x="76" y="484" width="6" height="2" fill="#fff" />
<rect x="92" y="484" width="5" height="2" fill="#fff" />
<rect x="84" y="410" width="5" height="32" fill="#fff" />
<rect x="84" y="447" width="5" height="36" fill="#fff" />
<polygon points="84.4,488.8 86.7,485.40000000000003 89.0,488.8" fill="#fff"/>
<rect x="100" y="404" width="25" height="85" fill="#000" />
<rect x="102" y="407" width="6" height="3" fill="#fff" />
<rect x="118" y="407" width="5" height="3" fill="#fff" />
<rect x="102" y="412" width="6" height="2" fill="#fff" />
<rect x="118" y="412" width="5" height="2" fill="#fff" />
<rect x="102" y="416" width="6" height="3" fill="#fff" />
<rect x="118" y="416" width="5" height="3" fill="#fff" />
<rect x="102" y="420" width="6" height="3" fill="#fff" />
<rect x="118" y="420" width="5" height="3" fill="#fff" />
<rect x="102" y="425" width="6" height="3" fill="#fff" />
<rect x="118" y="425" width="5" height="3" fill="#fff" />
<rect x="102" y="430" width="6" height="2" fill="#fff" />
<rect x="118" y="430" width="5" height="2" fill="#fff" />
<rect x="102" y="434" width="6" height="3" fill="#fff" />
<rect x="118" y="434" width="5" height="3" fill="#fff" />
<rect x="102" y="438" width="6" height="3" fill="#fff" />
<rect x="118" y="438" width="5" height="3" fill="#fff" />
<rect x="102" y="443" width="6" height="3" fill="#fff" />
<rect x="118" y="443" width="5" height="3" fill="#fff" />
<rect x="102" y="448" width="6" height="2" fill="#fff" />
<rect x="118" y="448" width="5" height="2" fill="#fff" />
<rect x="102" y="452" width="6" height="3" fill="#fff" />
<rect x="118" y="452" width="5" height="3" fill="#fff" />
<rect x="102" y="456" width="6" height="3" fill="#fff" />
<rect x="118" y="456" width="5" height="3" fill="#fff" />
<rect x="102" y="461" width="6" height="3" fill="#fff" />
<rect x="118" y="461" width="5" height="3" fill="#fff" />
<rect x="102" y="466" width="6" height="2" fill="#fff" />
<rect x="118" y="466" width="5" height="2" fill="#fff" />
<rect x="102" y="470" width="6" height="3" fill="#fff" />
<rect x="118" y="470" width="5" height="3" fill="#fff" />
<rect x="102" y="474" width="6" height="3" fill="#fff" />
<rect x="118" y="474" width="5" height="3" fill="#fff" />
<rect x="102" y="479" width="6" height="3" fill="#fff" />
<rect x="118" y="479" width="5" height="3" fill="#fff" />
<rect x="102" y="484" width="6" height="2" fill="#fff" />
<rect x="118" y="484" width="5" height="2" fill="#fff" />
<rect x="111" y="410" width="4" height="32" fill="#fff" />
<rect x="111" y="447" width="4" height="36" fill="#fff" />
<polygon points="110.60000000000001,488.8 112.9,485.40000000000003 115.2,488.8" fill="#fff"/>
<rect x="127" y="404" width="24" height="85" fill="#000" />
<rect x="129" y="407" width="5" height="3" fill="#fff" />
<rect x="144" y="407" width="5" height="3" fill="#fff" />
<rect x="129" y="412" width="5" height="2" fill="#fff" />
<rect x="144" y="412" width="5" height="2" fill="#fff" />
<rect x="129" y="416" width="5" height="3" fill="#fff" />
<rect x="144" y="416" width="5" height="3" fill="#fff" />
<rect x="129" y="420" width="5" height="3" fill="#fff" />
<rect x="144" y="420" width="5" height="3" fill="#fff" />
<rect x="129" y="425" width="5" height="3" fill="#fff" />
<rect x="144" y="425" width="5" height="3" fill="#fff" />
<rect x="129" y="430" width="5" height="2" fill="#fff" />
<rect x="144" y="430" width="5" height="2" fill="#fff" />
<rect x="129" y="434" width="5" height="3" fill="#fff" />
<rect x="144" y="434" width="5" height="3" fill="#fff" />
<rect x="129" y="438" width="5" height="3" fill="#fff" />
<rect x="144" y="438" width="5" height="3" fill="#fff" />
<rect x="129" y="443" width="5" height="3" fill="#fff" />
<rect x="144" y="443" width="5" height="3" fill="#fff" />
<rect x="129" y="448" width="5" height="2" fill="#fff" />
<rect x="144" y="448" width="5" height="2" fill="#fff" />
<rect x="129" y="452" width="5" height="3" fill="#fff" />
<rect x="144" y="452" width="5" height="3" fill="#fff" />
<rect x="129" y="456" width="5" height="3" fill="#fff" />
<rect x="144" y="456" width="5" height="3" fill="#fff" />
<rect x="129" y="461" width="5" height="3" fill="#fff" />
<rect x="144" y="461" width="5" height="3" fill="#fff" />
<rect x="129" y="466" width="5" height="2" fill="#fff" />
<rect x="144" y="466" width="5" height="2" fill="#fff" />
<rect x="129" y="470" width="5" height="3" fill="#fff" />
<rect x="144" y="470" width="5" height="3" fill="#fff" />
<rect x="129" y="474" width="5" height="3" fill="#fff" />
<rect x="144" y="474" width="5" height="3" fill="#fff" />
<rect x="129" y="479" width="5" height="3" fill="#fff" />
<rect x="144" y="479" width="5" height="3" fill="#fff" />
<rect x="129" y="484" width="5" height="2" fill="#fff" />
<rect x="144" y="484" width="5" height="2" fill="#fff" />
<rect x="137" y="410" width="4" height="32" fill="#fff" />
<rect x="137" y="447" width="4" height="36" fill="#fff" />
<polygon points="136.79999999999998,488.8 139.1,485.40000000000003 141.4,488.8" fill="#fff"/>
<rect x="153" y="404" width="25" height="85" fill="#000" />
<rect x="155" y="407" width="5" height="3" fill="#fff" />
<rect x="170" y="407" width="6" height="3" fill="#fff" />
<rect x="155" y="412" width="5" height="2" fill="#fff" />
<rect x="170" y="412" width="6" height="2" fill="#fff" />
<rect x="155" y="416" width="5" height="3" fill="#fff" />
<rect x="170" y="416" width="6" height="3" fill="#fff" />
<rect x="155" y="420" width="5" height="3" fill="#fff" />
<rect x="170" y="420" width="6" height="3" fill="#fff" />
<rect x="155" y="425" width="5" height="3" fill="#fff" />
<rect x="170" y="425" width="6" height="3" fill="#fff" />
<rect x="155" y="430" width="5" height="2" fill="#fff" />
<rect x="170" y="430" width="6" height="2" fill="#fff" />
<rect x="155" y="434" width="5" height="3" fill="#fff" />
<rect x="170" y="434" width="6" height="3" fill="#fff" />
<rect x="155" y="438" width="5" height="3" fill="#fff" />
<rect x="170" y="438" width="6" height="3" fill="#fff" />
<rect x="155" y="443" width="5" height="3" fill="#fff" />
<rect x="170" y="443" width="6" height="3" fill="#fff" />
<rect x="155" y="448" width="5" height="2" fill="#fff" />
<rect x="170" y="448" width="6" height="2" fill="#fff" />
<rect x="155" y="452" width="5" height="3" fill="#fff" />
<rect x="170" y="452" width="6" height="3" fill="#fff" />
<rect x="155" y="456" width="5" height="3" fill="#fff" />
<rect x="170" y="456" width="6" height="3" fill="#fff" />
<rect x="155" y="461" width="5" height="3" fill="#fff" />
<rect x="170" y="461" width="6" height="3" fill="#fff" />
<rect x="155" y="466" width="5" height="2" fill="#fff" />
<rect x="170" y="466" width="6" height="2" fill="#fff" />
<rect x="155" y="470" width="5" height="3" fill="#fff" />
<rect x="170" y="470" width="6" height="3" fill="#fff" />
<rect x="155" y="474" width="5" height="3" fill="#fff" />
<rect x="170" y="474" width="6" height="3" fill="#fff" />
<rect x="155" y="479" width="5" height="3" fill="#fff" />
<rect x="170" y="479" width="6" height="3" fill="#fff" />
<rect x="155" y="484" width="5" height="2" fill="#fff" />
<rect x="170" y="484" width="6" height="2" fill="#fff" />
<rect x="163" y="410" width="5" height="32" fill="#fff" />
<rect x="163" y="447" width="5" height="36" fill="#fff" />
<polygon points="163.0,488.8 165.3,485.40000000000003 167.60000000000002,488.8" fill="#fff"/>
<rect x="179" y="404" width="25" height="85" fill="#000" />
<rect x="181" y="407" width="5" height="3" fill="#fff" />
<rect x="196" y="407" width="6" height="3" fill="#fff" />
<rect x="181" y="412" width="5" height="2" fill="#fff" />
<rect x="196" y="412" width="6" height="2" fill="#fff" />
<rect x="181" y="416" width="5" height="3" fill="#fff" />
<rect x="196" y="416" width="6" height="3" fill="#fff" />
<rect x="181" y="420" width="5" height="3" fill="#fff" />
<rect x="196" y="420" width="6" height="3" fill="#fff" />
<rect x="181" y="425" width="5" height="3" fill="#fff" />
<rect x="196" y="425" width="6" height="3" fill="#fff" />
<rect x="181" y="430" width="5" height="2" fill="#fff" />
<rect x="196" y="430" width="6" height="2" fill="#fff" />
<rect x="181" y="434" width="5" height="3" fill="#fff" />
<rect x="196" y="434" width="6" height="3" fill="#fff" />
<rect x="181" y="438" width="5" height="3" fill="#fff" />
<rect x="196" y="438" width="6" height="3" fill="#fff" />
<rect x="181" y="443" width="5" height="3" fill="#fff" />
<rect x="196" y="443" width="6" height="3" fill="#fff" />
<rect x="181" y="448" width="5" height="2" fill="#fff" />
<rect x="196" y="448" width="6" height="2" fill="#fff" />
<rect x="181" y="452" width="5" height="3" fill="#fff" />
<rect x="196" y="452" width="6" height="3" fill="#fff" />
<rect x="181" y="456" width="5" height="3" fill="#fff" />
<rect x="196" y="456" width="6" height="3" fill="#fff" />
<rect x="181" y="461" width="5" height="3" fill="#fff" />
<rect x="196" y="461" width="6" height="3" fill="#fff" />
<rect x="181" y="466" width="5" height="2" fill="#fff" />
<rect x="196" y="466" width="6" height="2" fill="#fff" />
<rect x="181" y="470" width="5" height="3" fill="#fff" />
<rect x="196" y="470" width="6" height="3" fill="#fff" />
<rect x="181" y="474" width="5" height="3" fill="#fff" />
<rect x="196" y="474" width="6" height="3" fill="#fff" />
<rect x="181" y="479" width="5" height="3" fill="#fff" />
<rect x="196" y="479" width="6" height="3" fill="#fff" />
<rect x="181" y="484" width="5" height="2" fill="#fff" />
<rect x="196" y="484" width="6" height="2" fill="#fff" />
<rect x="189" y="410" width="5" height="32" fill="#fff" />
<rect x="189" y="447" width="5" height="36" fill="#fff" />
<polygon points="189.2,488.8 191.5,485.40000000000003 193.8,488.8" fill="#fff"/>
<rect x="205" y="404" width="25" height="85" fill="#000" />
<rect x="207" y="407" width="6" height="3" fill="#fff" />
<rect x="222" y="407" width="6" height="3" fill="#fff" />
<rect x="207" y="412" width="6" height="2" fill="#fff" />
<rect x="222" y="412" width="6" height="2" fill="#fff" />
<rect x="207" y="416" width="6" height="3" fill="#fff" />
<rect x="222" y="416" width="6" height="3" fill="#fff" />
<rect x="207" y="420" width="6" height="3" fill="#fff" />
<rect x="222" y="420" width="6" height="3" fill="#fff" />
<rect x="207" y="425" width="6" height="3" fill="#fff" />
<rect x="222" y="425" width="6" height="3" fill="#fff" />
<rect x="207" y="430" width="6" height="2" fill="#fff" />
<rect x="222" y="430" width="6" height="2" fill="#fff" />
<rect x="207" y="434" width="6" height="3" fill="#fff" />
<rect x="222" y="434" width="6" height="3" fill="#fff" />
<rect x="207" y="438" width="6" height="3" fill="#fff" />
<rect x="222" y="438" width="6" height="3" fill="#fff" />
<rect x="207" y="443" width="6" height="3" fill="#fff" />
<rect x="222" y="443" width="6" height="3" fill="#fff" />
<rect x="207" y="448" width="6" height="2" fill="#fff" />
<rect x="222" y="448" width="6" height="2" fill="#fff" />
<rect x="207" y="452" width="6" height="3" fill="#fff" />
<rect x="222" y="452" width="6" height="3" fill="#fff" />
<rect x="207" y="456" width="6" height="3" fill="#fff" />
<rect x="222" y="456" width="6" height="3" fill="#fff" />
<rect x="207" y="461" width="6" height="3" fill="#fff" />
<rect x="222" y="461" width="6" height="3" fill="#fff" />
<rect x="207" y="466" width="6" height="2" fill="#fff" />
<rect x="222" y="466" width="6" height="2" fill="#fff" />
<rect x="207" y="470" width="6" height="3" fill="#fff" />
<rect x="222" y="470" width="6" height="3" fill="#fff" />
<rect x="207" y="474" width="6" height="3" fill="#fff" />
<rect x="222" y="474" width="6" height="3" fill="#fff" />
<rect x="207" y="479" width="6" height="3" fill="#fff" />
<rect x="222" y="479" width="6" height="3" fill="#fff" />
<rect x="207" y="484" width="6" height="2" fill="#fff" />
<rect x="222" y="484" width="6" height="2" fill="#fff" />
<rect x="215" y="410" width="5" height="32" fill="#fff" />
<rect x="215" y="447" width="5" height="36" fill="#fff" />
<polygon points="215.39999999999998,488.8 217.7,485.40000000000003 220.0,488.8" fill="#fff"/>
<rect x="231" y="404" width="25" height="85" fill="#000" />
<rect x="233" y="407" width="6" height="3" fill="#fff" />
<rect x="249" y="407" width="5" height="3" fill="#fff" />
<rect x="233" y="412" width="6" height="2" fill="#fff" />
<rect x="249" y="412" width="5" height="2" fill="#fff" />
<rect x="233" y="416" width="6" height="3" fill="#fff" />
<rect x="249" y="416" width="5" height="3" fill="#fff" />
<rect x="233" y="420" width="6" height="3" fill="#fff" />
<rect x="249" y="420" width="5" height="3" fill="#fff" />
<rect x="233" y="425" width="6" height="3" fill="#fff" />
<rect x="249" y="425" width="5" height="3" fill="#fff" />
<rect x="233" y="430" width="6" height="2" fill="#fff" />
<rect x="249" y="430" width="5" height="2" fill="#fff" />
<rect x="233" y="434" width="6" height="3" fill="#fff" />
<rect x="249" y="434" width="5" height="3" fill="#fff" />
<rect x="233" y="438" width="6" height="3" fill="#fff" />
<rect x="249" y="438" width="5" height="3" fill="#fff" />
<rect x="233" y="443" width="6" height="3" fill="#fff" />
<rect x="249" y="443" width="5" height="3" fill="#fff" />
<rect x="233" y="448" width="6" height="2" fill="#fff" />
<rect x="249" y="448" width="5" height="2" fill="#fff" />
<rect x="233" y="452" width="6" height="3" fill="#fff" />
<rect x="249" y="452" width="5" height="3" fill="#fff" />
<rect x="233" y="456" width="6" height="3" fill="#fff" />
<rect x="249" y="456" width="5" height="3" fill="#fff" />
<rect x="233" y="461" width="6" height="3" fill="#fff" />
<rect x="249" y="461" width="5" height="3" fill="#fff" />
<rect x="233" y="466" width="6" height="2" fill="#fff" />
<rect x="249" y="466" width="5" height="2" fill="#fff" />
<rect x="233" y="470" width="6" height="3" fill="#fff" />
<rect x="249" y="470" width="5" height="3" fill="#fff" />
<rect x="233" y="474" width="6" height="3" fill="#fff" />
<rect x="249" y="474" width="5" height="3" fill="#fff" />
<rect x="233" y="479" width="6" height="3" fill="#fff" />
<rect x="249" y="479" width="5" height="3" fill="#fff" />
<rect x="233" y="484" width="6" height="2" fill="#fff" />
<rect x="249" y="484" width="5" height="2" fill="#fff" />
<rect x="242" y="410" width="4" height="32" fill="#fff" />
<rect x="242" y="447" width="4" height="36" fill="#fff" />
<polygon points="241.6,488.8 243.9,485.40000000000003 246.20000000000002,488.8" fill="#fff"/>
<rect x="394.50" y="347.50" width="225.00" height="84.00" fill="#fff" stroke="#000" stroke-width="1" rx="0"/>
<rect x="394" y="389" width="226" height="1" fill="#000" />
<rect x="420" y="349" width="177" height="15" fill="#000" />
<rect x="421" y="350" width="4" height="7" fill="#fff" />
<rect x="422" y="357" width="1" height="6" fill="#fff" />
<rect x="427" y="350" width="4" height="7" fill="#fff" />
<rect x="429" y="357" width="1" height="6" fill="#fff" />
<rect x="433" y="350" width="4" height="7" fill="#fff" />
<rect x="434" y="357" width="1" height="6" fill="#fff" />
<rect x="439" y="350" width="4" height="7" fill="#fff" />
<rect x="441" y="357" width="1" height="6" fill="#fff" />
<rect x="445" y="350" width="4" height="7" fill="#fff" />
<rect x="446" y="357" width="1" height="6" fill="#fff" />
<rect x="451" y="350" width="4" height="7" fill="#fff" />
<rect x="453" y="357" width="1" height="6" fill="#fff" />
<rect x="456" y="350" width="4" height="7" fill="#fff" />
<rect x="457" y="357" width="1" height="6" fill="#fff" />
<rect x="462" y="350" width="4" height="7" fill="#fff" />
<rect x="464" y="357" width="1" height="6" fill="#fff" />
<rect x="468" y="350" width="4" height="7" fill="#fff" />
<rect x="469" y="357" width="1" height="6" fill="#fff" />
<rect x="474" y="350" width="4" height="7" fill="#fff" />
<rect x="476" y="357" width="1" height="6" fill="#fff" />
<rect x="480" y="350" width="4" height="7" fill="#fff" />
<rect x="481" y="357" width="1" height="6" fill="#fff" />
<rect x="486" y="350" width="4" height="7" fill="#fff" />
<rect x="488" y="357" width="1" height="6" fill="#fff" />
<rect x="492" y="350" width="4" height="7" fill="#fff" />
<rect x="493" y="357" width="1" height="6" fill="#fff" />
<rect x="498" y="350" width="4" height="7" fill="#fff" />
<rect x="500" y="357" width="1" height="6" fill="#fff" />
<rect x="503" y="350" width="4" height="7" fill="#fff" />
<rect x="504" y="357" width="1" height="6" fill="#fff" />
<rect x="509" y="350" width="4" height="7" fill="#fff" />
<rect x="511" y="357" width="1" height="6" fill="#fff" />
<rect x="515" y="350" width="4" height="7" fill="#fff" />
<rect x="516" y="357" width="1" height="6" fill="#fff" />
<rect x="521" y="350" width="4" height="7" fill="#fff" />
<rect x="523" y="357" width="1" height="6" fill="#fff" />
<rect x="527" y="350" width="4" height="7" fill="#fff" />
<rect x="528" y="357" width="1" height="6" fill="#fff" />
<rect x="533" y="350" width="4" height="7" fill="#fff" />
<rect x="535" y="357" width="1" height="6" fill="#fff" />
<rect x="539" y="350" width="4" height="7" fill="#fff" />
<rect x="540" y="357" width="1" height="6" fill="#fff" />
<rect x="544" y="350" width="4" height="7" fill="#fff" />
<rect x="546" y="357" width="1" height="6" fill="#fff" />
<rect x="550" y="350" width="4" height="7" fill="#fff" />
<rect x="551" y="357" width="1" height="6" fill="#fff" />
<rect x="556" y="350" width="4" height="7" fill="#fff" />
<rect x="558" y="357" width="1" height="6" fill="#fff" />
<rect x="562" y="350" width="4" height="7" fill="#fff" />
<rect x="563" y="357" width="1" height="6" fill="#fff" />
<rect x="568" y="350" width="4" height="7" fill="#fff" />
<rect x="570" y="357" width="1" height="6" fill="#fff" />
<rect x="574" y="350" width="4" height="7" fill="#fff" />
<rect x="575" y="357" width="1" height="6" fill="#fff" />
<rect x="580" y="350" width="4" height="7" fill="#fff" />
<rect x="582" y="357" width="1" height="6" fill="#fff" />
<rect x="586" y="350" width="4" height="7" fill="#fff" />
<rect x="587" y="357" width="1" height="6" fill="#fff" />
<rect x="591" y="350" width="4" height="7" fill="#fff" />
<rect x="593" y="357" width="1" height="6" fill="#fff" />
<path d="M405,350.2 h11 v8.93 h-3.4 v4.03 h-7.6 Z" fill="#fff" stroke="#000" stroke-width="1.1"/>
<path d="M408.2,359.13 v-3.2 h4.4" fill="none" stroke="#000" stroke-width="1.1"/>
<path d="M609,350.2 h-9.6 v8.93 h3.4 v4.03 h6.2 Z" fill="#fff" stroke="#000" stroke-width="1.1"/>
<path d="M605.8,359.13 v-3.2 h-3.6" fill="none" stroke="#000" stroke-width="1.1"/>
<rect x="394" y="350" width="8" height="1" fill="#000" />
<rect x="394" y="363" width="8" height="1" fill="#000" />
<rect x="613" y="350" width="7" height="1" fill="#000" />
<rect x="613" y="363" width="7" height="1" fill="#000" />
<rect x="420" y="374" width="177" height="13" fill="#000" />
<rect x="421" y="375" width="4" height="6" fill="#fff" />
<rect x="422" y="381" width="1" height="5" fill="#fff" />
<rect x="427" y="375" width="4" height="6" fill="#fff" />
<rect x="429" y="381" width="1" height="5" fill="#fff" />
<rect x="433" y="375" width="4" height="6" fill="#fff" />
<rect x="434" y="381" width="1" height="5" fill="#fff" />
<rect x="439" y="375" width="4" height="6" fill="#fff" />
<rect x="441" y="381" width="1" height="5" fill="#fff" />
<rect x="445" y="375" width="4" height="6" fill="#fff" />
<rect x="446" y="381" width="1" height="5" fill="#fff" />
<rect x="451" y="375" width="4" height="6" fill="#fff" />
<rect x="453" y="381" width="1" height="5" fill="#fff" />
<rect x="456" y="375" width="4" height="6" fill="#fff" />
<rect x="457" y="381" width="1" height="5" fill="#fff" />
<rect x="462" y="375" width="4" height="6" fill="#fff" />
<rect x="464" y="381" width="1" height="5" fill="#fff" />
<rect x="468" y="375" width="4" height="6" fill="#fff" />
<rect x="469" y="381" width="1" height="5" fill="#fff" />
<rect x="474" y="375" width="4" height="6" fill="#fff" />
<rect x="476" y="381" width="1" height="5" fill="#fff" />
<rect x="480" y="375" width="4" height="6" fill="#fff" />
<rect x="481" y="381" width="1" height="5" fill="#fff" />
<rect x="486" y="375" width="4" height="6" fill="#fff" />
<rect x="488" y="381" width="1" height="5" fill="#fff" />
<rect x="492" y="375" width="4" height="6" fill="#fff" />
<rect x="493" y="381" width="1" height="5" fill="#fff" />
<rect x="498" y="375" width="4" height="6" fill="#fff" />
<rect x="500" y="381" width="1" height="5" fill="#fff" />
<rect x="503" y="375" width="4" height="6" fill="#fff" />
<rect x="504" y="381" width="1" height="5" fill="#fff" />
<rect x="509" y="375" width="4" height="6" fill="#fff" />
<rect x="511" y="381" width="1" height="5" fill="#fff" />
<rect x="515" y="375" width="4" height="6" fill="#fff" />
<rect x="516" y="381" width="1" height="5" fill="#fff" />
<rect x="521" y="375" width="4" height="6" fill="#fff" />
<rect x="523" y="381" width="1" height="5" fill="#fff" />
<rect x="527" y="375" width="4" height="6" fill="#fff" />
<rect x="528" y="381" width="1" height="5" fill="#fff" />
<rect x="533" y="375" width="4" height="6" fill="#fff" />
<rect x="535" y="381" width="1" height="5" fill="#fff" />
<rect x="539" y="375" width="4" height="6" fill="#fff" />
<rect x="540" y="381" width="1" height="5" fill="#fff" />
<rect x="544" y="375" width="4" height="6" fill="#fff" />
<rect x="546" y="381" width="1" height="5" fill="#fff" />
<rect x="550" y="375" width="4" height="6" fill="#fff" />
<rect x="551" y="381" width="1" height="5" fill="#fff" />
<rect x="556" y="375" width="4" height="6" fill="#fff" />
<rect x="558" y="381" width="1" height="5" fill="#fff" />
<rect x="562" y="375" width="4" height="6" fill="#fff" />
<rect x="563" y="381" width="1" height="5" fill="#fff" />
<rect x="568" y="375" width="4" height="6" fill="#fff" />
<rect x="570" y="381" width="1" height="5" fill="#fff" />
<rect x="574" y="375" width="4" height="6" fill="#fff" />
<rect x="575" y="381" width="1" height="5" fill="#fff" />
<rect x="580" y="375" width="4" height="6" fill="#fff" />
<rect x="582" y="381" width="1" height="5" fill="#fff" />
<rect x="586" y="375" width="4" height="6" fill="#fff" />
<rect x="587" y="381" width="1" height="5" fill="#fff" />
<rect x="591" y="375" width="4" height="6" fill="#fff" />
<rect x="593" y="381" width="1" height="5" fill="#fff" />
<path d="M405,374.6 h11 v8.31 h-3.4 v3.75 h-7.6 Z" fill="#fff" stroke="#000" stroke-width="1.1"/>
<path d="M408.2,382.91 v-3.2 h4.4" fill="none" stroke="#000" stroke-width="1.1"/>
<path d="M609,374.6 h-9.6 v8.31 h3.4 v3.75 h6.2 Z" fill="#fff" stroke="#000" stroke-width="1.1"/>
<path d="M605.8,382.91 v-3.2 h-3.6" fill="none" stroke="#000" stroke-width="1.1"/>
<rect x="394" y="375" width="8" height="1" fill="#000" />
<rect x="394" y="386" width="8" height="1" fill="#000" />
<rect x="613" y="375" width="7" height="1" fill="#000" />
<rect x="613" y="386" width="7" height="1" fill="#000" />
<rect x="420" y="391" width="177" height="15" fill="#000" />
<rect x="421" y="392" width="4" height="7" fill="#fff" />
<rect x="422" y="399" width="1" height="6" fill="#fff" />
<rect x="427" y="392" width="4" height="7" fill="#fff" />
<rect x="429" y="399" width="1" height="6" fill="#fff" />
<rect x="433" y="392" width="4" height="7" fill="#fff" />
<rect x="434" y="399" width="1" height="6" fill="#fff" />
<rect x="439" y="392" width="4" height="7" fill="#fff" />
<rect x="441" y="399" width="1" height="6" fill="#fff" />
<rect x="445" y="392" width="4" height="7" fill="#fff" />
<rect x="446" y="399" width="1" height="6" fill="#fff" />
<rect x="451" y="392" width="4" height="7" fill="#fff" />
<rect x="453" y="399" width="1" height="6" fill="#fff" />
<rect x="456" y="392" width="4" height="7" fill="#fff" />
<rect x="457" y="399" width="1" height="6" fill="#fff" />
<rect x="462" y="392" width="4" height="7" fill="#fff" />
<rect x="464" y="399" width="1" height="6" fill="#fff" />
<rect x="468" y="392" width="4" height="7" fill="#fff" />
<rect x="469" y="399" width="1" height="6" fill="#fff" />
<rect x="474" y="392" width="4" height="7" fill="#fff" />
<rect x="476" y="399" width="1" height="6" fill="#fff" />
<rect x="480" y="392" width="4" height="7" fill="#fff" />
<rect x="481" y="399" width="1" height="6" fill="#fff" />
<rect x="486" y="392" width="4" height="7" fill="#fff" />
<rect x="488" y="399" width="1" height="6" fill="#fff" />
<rect x="492" y="392" width="4" height="7" fill="#fff" />
<rect x="493" y="399" width="1" height="6" fill="#fff" />
<rect x="498" y="392" width="4" height="7" fill="#fff" />
<rect x="500" y="399" width="1" height="6" fill="#fff" />
<rect x="503" y="392" width="4" height="7" fill="#fff" />
<rect x="504" y="399" width="1" height="6" fill="#fff" />
<rect x="509" y="392" width="4" height="7" fill="#fff" />
<rect x="511" y="399" width="1" height="6" fill="#fff" />
<rect x="515" y="392" width="4" height="7" fill="#fff" />
<rect x="516" y="399" width="1" height="6" fill="#fff" />
<rect x="521" y="392" width="4" height="7" fill="#fff" />
<rect x="523" y="399" width="1" height="6" fill="#fff" />
<rect x="527" y="392" width="4" height="7" fill="#fff" />
<rect x="528" y="399" width="1" height="6" fill="#fff" />
<rect x="533" y="392" width="4" height="7" fill="#fff" />
<rect x="535" y="399" width="1" height="6" fill="#fff" />
<rect x="539" y="392" width="4" height="7" fill="#fff" />
<rect x="540" y="399" width="1" height="6" fill="#fff" />
<rect x="544" y="392" width="4" height="7" fill="#fff" />
<rect x="546" y="399" width="1" height="6" fill="#fff" />
<rect x="550" y="392" width="4" height="7" fill="#fff" />
<rect x="551" y="399" width="1" height="6" fill="#fff" />
<rect x="556" y="392" width="4" height="7" fill="#fff" />
<rect x="558" y="399" width="1" height="6" fill="#fff" />
<rect x="562" y="392" width="4" height="7" fill="#fff" />
<rect x="563" y="399" width="1" height="6" fill="#fff" />
<rect x="568" y="392" width="4" height="7" fill="#fff" />
<rect x="570" y="399" width="1" height="6" fill="#fff" />
<rect x="574" y="392" width="4" height="7" fill="#fff" />
<rect x="575" y="399" width="1" height="6" fill="#fff" />
<rect x="580" y="392" width="4" height="7" fill="#fff" />
<rect x="582" y="399" width="1" height="6" fill="#fff" />
<rect x="586" y="392" width="4" height="7" fill="#fff" />
<rect x="587" y="399" width="1" height="6" fill="#fff" />
<rect x="591" y="392" width="4" height="7" fill="#fff" />
<rect x="593" y="399" width="1" height="6" fill="#fff" />
<path d="M405,392.4 h11 v8.80 h-3.4 v3.98 h-7.6 Z" fill="#fff" stroke="#000" stroke-width="1.1"/>
<path d="M408.2,401.20 v-3.2 h4.4" fill="none" stroke="#000" stroke-width="1.1"/>
<path d="M609,392.4 h-9.6 v8.80 h3.4 v3.98 h6.2 Z" fill="#fff" stroke="#000" stroke-width="1.1"/>
<path d="M605.8,401.20 v-3.2 h-3.6" fill="none" stroke="#000" stroke-width="1.1"/>
<rect x="394" y="392" width="8" height="1" fill="#000" />
<rect x="394" y="405" width="8" height="1" fill="#000" />
<rect x="613" y="392" width="7" height="1" fill="#000" />
<rect x="613" y="405" width="7" height="1" fill="#000" />
<rect x="420" y="415" width="177" height="14" fill="#000" />
<rect x="421" y="416" width="4" height="7" fill="#fff" />
<rect x="422" y="423" width="1" height="5" fill="#fff" />
<rect x="427" y="416" width="4" height="7" fill="#fff" />
<rect x="429" y="423" width="1" height="5" fill="#fff" />
<rect x="433" y="416" width="4" height="7" fill="#fff" />
<rect x="434" y="423" width="1" height="5" fill="#fff" />
<rect x="439" y="416" width="4" height="7" fill="#fff" />
<rect x="441" y="423" width="1" height="5" fill="#fff" />
<rect x="445" y="416" width="4" height="7" fill="#fff" />
<rect x="446" y="423" width="1" height="5" fill="#fff" />
<rect x="451" y="416" width="4" height="7" fill="#fff" />
<rect x="453" y="423" width="1" height="5" fill="#fff" />
<rect x="456" y="416" width="4" height="7" fill="#fff" />
<rect x="457" y="423" width="1" height="5" fill="#fff" />
<rect x="462" y="416" width="4" height="7" fill="#fff" />
<rect x="464" y="423" width="1" height="5" fill="#fff" />
<rect x="468" y="416" width="4" height="7" fill="#fff" />
<rect x="469" y="423" width="1" height="5" fill="#fff" />
<rect x="474" y="416" width="4" height="7" fill="#fff" />
<rect x="476" y="423" width="1" height="5" fill="#fff" />
<rect x="480" y="416" width="4" height="7" fill="#fff" />
<rect x="481" y="423" width="1" height="5" fill="#fff" />
<rect x="486" y="416" width="4" height="7" fill="#fff" />
<rect x="488" y="423" width="1" height="5" fill="#fff" />
<rect x="492" y="416" width="4" height="7" fill="#fff" />
<rect x="493" y="423" width="1" height="5" fill="#fff" />
<rect x="498" y="416" width="4" height="7" fill="#fff" />
<rect x="500" y="423" width="1" height="5" fill="#fff" />
<rect x="503" y="416" width="4" height="7" fill="#fff" />
<rect x="504" y="423" width="1" height="5" fill="#fff" />
<rect x="509" y="416" width="4" height="7" fill="#fff" />
<rect x="511" y="423" width="1" height="5" fill="#fff" />
<rect x="515" y="416" width="4" height="7" fill="#fff" />
<rect x="516" y="423" width="1" height="5" fill="#fff" />
<rect x="521" y="416" width="4" height="7" fill="#fff" />
<rect x="523" y="423" width="1" height="5" fill="#fff" />
<rect x="527" y="416" width="4" height="7" fill="#fff" />
<rect x="528" y="423" width="1" height="5" fill="#fff" />
<rect x="533" y="416" width="4" height="7" fill="#fff" />
<rect x="535" y="423" width="1" height="5" fill="#fff" />
<rect x="539" y="416" width="4" height="7" fill="#fff" />
<rect x="540" y="423" width="1" height="5" fill="#fff" />
<rect x="544" y="416" width="4" height="7" fill="#fff" />
<rect x="546" y="423" width="1" height="5" fill="#fff" />
<rect x="550" y="416" width="4" height="7" fill="#fff" />
<rect x="551" y="423" width="1" height="5" fill="#fff" />
<rect x="556" y="416" width="4" height="7" fill="#fff" />
<rect x="558" y="423" width="1" height="5" fill="#fff" />
<rect x="562" y="416" width="4" height="7" fill="#fff" />
<rect x="563" y="423" width="1" height="5" fill="#fff" />
<rect x="568" y="416" width="4" height="7" fill="#fff" />
<rect x="570" y="423" width="1" height="5" fill="#fff" />
<rect x="574" y="416" width="4" height="7" fill="#fff" />
<rect x="575" y="423" width="1" height="5" fill="#fff" />
<rect x="580" y="416" width="4" height="7" fill="#fff" />
<rect x="582" y="423" width="1" height="5" fill="#fff" />
<rect x="586" y="416" width="4" height="7" fill="#fff" />
<rect x="587" y="423" width="1" height="5" fill="#fff" />
<rect x="591" y="416" width="4" height="7" fill="#fff" />
<rect x="593" y="423" width="1" height="5" fill="#fff" />
<path d="M405,416 h11 v8.93 h-3.4 v4.03 h-7.6 Z" fill="#fff" stroke="#000" stroke-width="1.1"/>
<path d="M408.2,424.93 v-3.2 h4.4" fill="none" stroke="#000" stroke-width="1.1"/>
<path d="M609,416 h-9.6 v8.93 h3.4 v4.03 h6.2 Z" fill="#fff" stroke="#000" stroke-width="1.1"/>
<path d="M605.8,424.93 v-3.2 h-3.6" fill="none" stroke="#000" stroke-width="1.1"/>
<rect x="394" y="416" width="8" height="1" fill="#000" />
<rect x="394" y="428" width="8" height="1" fill="#000" />
<rect x="613" y="416" width="7" height="1" fill="#000" />
<rect x="613" y="428" width="7" height="1" fill="#000" />
<rect x="420.50" y="365.50" width="30.00" height="6.00" fill="#fff" stroke="#000" stroke-width="1" rx="0"/>
<rect x="456.50" y="365.50" width="29.00" height="6.00" fill="#fff" stroke="#000" stroke-width="1" rx="0"/>
<rect x="495.50" y="365.50" width="29.00" height="6.00" fill="#fff" stroke="#000" stroke-width="1" rx="0"/>
<rect x="530.50" y="365.50" width="29.00" height="6.00" fill="#fff" stroke="#000" stroke-width="1" rx="0"/>
<rect x="566.50" y="365.50" width="29.00" height="6.00" fill="#fff" stroke="#000" stroke-width="1" rx="0"/>
<rect x="403.50" y="365.50" width="12.00" height="6.00" fill="#fff" stroke="#000" stroke-width="1" rx="0"/>
<rect x="600.50" y="365.50" width="14.00" height="6.00" fill="#fff" stroke="#000" stroke-width="1" rx="0"/>
<rect x="420.50" y="407.50" width="30.00" height="6.00" fill="#fff" stroke="#000" stroke-width="1" rx="0"/>
<rect x="456.50" y="407.50" width="29.00" height="6.00" fill="#fff" stroke="#000" stroke-width="1" rx="0"/>
<rect x="495.50" y="407.50" width="29.00" height="6.00" fill="#fff" stroke="#000" stroke-width="1" rx="0"/>
<rect x="530.50" y="407.50" width="29.00" height="6.00" fill="#fff" stroke="#000" stroke-width="1" rx="0"/>
<rect x="566.50" y="407.50" width="29.00" height="6.00" fill="#fff" stroke="#000" stroke-width="1" rx="0"/>
<rect x="403.50" y="407.50" width="12.00" height="6.00" fill="#fff" stroke="#000" stroke-width="1" rx="0"/>
<rect x="600.50" y="407.50" width="14.00" height="6.00" fill="#fff" stroke="#000" stroke-width="1" rx="0"/>
<rect x="402" y="347" width="3" height="85" fill="#000" />
<rect x="610" y="347" width="2" height="85" fill="#000" />
<rect x="394.50" y="436.50" width="226.00" height="84.00" fill="#fff" stroke="#000" stroke-width="1" rx="0"/>
<rect x="394" y="478" width="227" height="1" fill="#000" />
<rect x="420" y="438" width="177" height="14" fill="#000" />
<rect x="421" y="439" width="4" height="7" fill="#fff" />
<rect x="422" y="446" width="1" height="5" fill="#fff" />
<rect x="427" y="439" width="4" height="7" fill="#fff" />
<rect x="429" y="446" width="1" height="5" fill="#fff" />
<rect x="433" y="439" width="4" height="7" fill="#fff" />
<rect x="434" y="446" width="1" height="5" fill="#fff" />
<rect x="439" y="439" width="4" height="7" fill="#fff" />
<rect x="441" y="446" width="1" height="5" fill="#fff" />
<rect x="445" y="439" width="4" height="7" fill="#fff" />
<rect x="446" y="446" width="1" height="5" fill="#fff" />
<rect x="451" y="439" width="4" height="7" fill="#fff" />
<rect x="453" y="446" width="1" height="5" fill="#fff" />
<rect x="456" y="439" width="4" height="7" fill="#fff" />
<rect x="457" y="446" width="1" height="5" fill="#fff" />
<rect x="462" y="439" width="4" height="7" fill="#fff" />
<rect x="464" y="446" width="1" height="5" fill="#fff" />
<rect x="468" y="439" width="4" height="7" fill="#fff" />
<rect x="469" y="446" width="1" height="5" fill="#fff" />
<rect x="474" y="439" width="4" height="7" fill="#fff" />
<rect x="476" y="446" width="1" height="5" fill="#fff" />
<rect x="480" y="439" width="4" height="7" fill="#fff" />
<rect x="481" y="446" width="1" height="5" fill="#fff" />
<rect x="486" y="439" width="4" height="7" fill="#fff" />
<rect x="488" y="446" width="1" height="5" fill="#fff" />
<rect x="492" y="439" width="4" height="7" fill="#fff" />
<rect x="493" y="446" width="1" height="5" fill="#fff" />
<rect x="498" y="439" width="4" height="7" fill="#fff" />
<rect x="500" y="446" width="1" height="5" fill="#fff" />
<rect x="503" y="439" width="4" height="7" fill="#fff" />
<rect x="504" y="446" width="1" height="5" fill="#fff" />
<rect x="509" y="439" width="4" height="7" fill="#fff" />
<rect x="511" y="446" width="1" height="5" fill="#fff" />
<rect x="515" y="439" width="4" height="7" fill="#fff" />
<rect x="516" y="446" width="1" height="5" fill="#fff" />
<rect x="521" y="439" width="4" height="7" fill="#fff" />
<rect x="523" y="446" width="1" height="5" fill="#fff" />
<rect x="527" y="439" width="4" height="7" fill="#fff" />
<rect x="528" y="446" width="1" height="5" fill="#fff" />
<rect x="533" y="439" width="4" height="7" fill="#fff" />
<rect x="535" y="446" width="1" height="5" fill="#fff" />
<rect x="539" y="439" width="4" height="7" fill="#fff" />
<rect x="540" y="446" width="1" height="5" fill="#fff" />
<rect x="544" y="439" width="4" height="7" fill="#fff" />
<rect x="546" y="446" width="1" height="5" fill="#fff" />
<rect x="550" y="439" width="4" height="7" fill="#fff" />
<rect x="551" y="446" width="1" height="5" fill="#fff" />
<rect x="556" y="439" width="4" height="7" fill="#fff" />
<rect x="558" y="446" width="1" height="5" fill="#fff" />
<rect x="562" y="439" width="4" height="7" fill="#fff" />
<rect x="563" y="446" width="1" height="5" fill="#fff" />
<rect x="568" y="439" width="4" height="7" fill="#fff" />
<rect x="570" y="446" width="1" height="5" fill="#fff" />
<rect x="574" y="439" width="4" height="7" fill="#fff" />
<rect x="575" y="446" width="1" height="5" fill="#fff" />
<rect x="580" y="439" width="4" height="7" fill="#fff" />
<rect x="582" y="446" width="1" height="5" fill="#fff" />
<rect x="586" y="439" width="4" height="7" fill="#fff" />
<rect x="587" y="446" width="1" height="5" fill="#fff" />
<rect x="591" y="439" width="4" height="7" fill="#fff" />
<rect x="593" y="446" width="1" height="5" fill="#fff" />
<path d="M405,439 h11 v8.80 h-3.4 v3.98 h-7.6 Z" fill="#fff" stroke="#000" stroke-width="1.1"/>
<path d="M408.2,447.80 v-3.2 h4.4" fill="none" stroke="#000" stroke-width="1.1"/>
<path d="M609.6,439 h-9.6 v8.80 h3.4 v3.98 h6.2 Z" fill="#fff" stroke="#000" stroke-width="1.1"/>
<path d="M606.4,447.80 v-3.2 h-3.6" fill="none" stroke="#000" stroke-width="1.1"/>
<rect x="394" y="439" width="8" height="1" fill="#000" />
<rect x="394" y="451" width="8" height="1" fill="#000" />
<rect x="613" y="439" width="8" height="1" fill="#000" />
<rect x="613" y="451" width="8" height="1" fill="#000" />
<rect x="420" y="462" width="177" height="14" fill="#000" />
<rect x="421" y="463" width="4" height="7" fill="#fff" />
<rect x="422" y="470" width="1" height="5" fill="#fff" />
<rect x="427" y="463" width="4" height="7" fill="#fff" />
<rect x="429" y="470" width="1" height="5" fill="#fff" />
<rect x="433" y="463" width="4" height="7" fill="#fff" />
<rect x="434" y="470" width="1" height="5" fill="#fff" />
<rect x="439" y="463" width="4" height="7" fill="#fff" />
<rect x="441" y="470" width="1" height="5" fill="#fff" />
<rect x="445" y="463" width="4" height="7" fill="#fff" />
<rect x="446" y="470" width="1" height="5" fill="#fff" />
<rect x="451" y="463" width="4" height="7" fill="#fff" />
<rect x="453" y="470" width="1" height="5" fill="#fff" />
<rect x="456" y="463" width="4" height="7" fill="#fff" />
<rect x="457" y="470" width="1" height="5" fill="#fff" />
<rect x="462" y="463" width="4" height="7" fill="#fff" />
<rect x="464" y="470" width="1" height="5" fill="#fff" />
<rect x="468" y="463" width="4" height="7" fill="#fff" />
<rect x="469" y="470" width="1" height="5" fill="#fff" />
<rect x="474" y="463" width="4" height="7" fill="#fff" />
<rect x="476" y="470" width="1" height="5" fill="#fff" />
<rect x="480" y="463" width="4" height="7" fill="#fff" />
<rect x="481" y="470" width="1" height="5" fill="#fff" />
<rect x="486" y="463" width="4" height="7" fill="#fff" />
<rect x="488" y="470" width="1" height="5" fill="#fff" />
<rect x="492" y="463" width="4" height="7" fill="#fff" />
<rect x="493" y="470" width="1" height="5" fill="#fff" />
<rect x="498" y="463" width="4" height="7" fill="#fff" />
<rect x="500" y="470" width="1" height="5" fill="#fff" />
<rect x="503" y="463" width="4" height="7" fill="#fff" />
<rect x="504" y="470" width="1" height="5" fill="#fff" />
<rect x="509" y="463" width="4" height="7" fill="#fff" />
<rect x="511" y="470" width="1" height="5" fill="#fff" />
<rect x="515" y="463" width="4" height="7" fill="#fff" />
<rect x="516" y="470" width="1" height="5" fill="#fff" />
<rect x="521" y="463" width="4" height="7" fill="#fff" />
<rect x="523" y="470" width="1" height="5" fill="#fff" />
<rect x="527" y="463" width="4" height="7" fill="#fff" />
<rect x="528" y="470" width="1" height="5" fill="#fff" />
<rect x="533" y="463" width="4" height="7" fill="#fff" />
<rect x="535" y="470" width="1" height="5" fill="#fff" />
<rect x="539" y="463" width="4" height="7" fill="#fff" />
<rect x="540" y="470" width="1" height="5" fill="#fff" />
<rect x="544" y="463" width="4" height="7" fill="#fff" />
<rect x="546" y="470" width="1" height="5" fill="#fff" />
<rect x="550" y="463" width="4" height="7" fill="#fff" />
<rect x="551" y="470" width="1" height="5" fill="#fff" />
<rect x="556" y="463" width="4" height="7" fill="#fff" />
<rect x="558" y="470" width="1" height="5" fill="#fff" />
<rect x="562" y="463" width="4" height="7" fill="#fff" />
<rect x="563" y="470" width="1" height="5" fill="#fff" />
<rect x="568" y="463" width="4" height="7" fill="#fff" />
<rect x="570" y="470" width="1" height="5" fill="#fff" />
<rect x="574" y="463" width="4" height="7" fill="#fff" />
<rect x="575" y="470" width="1" height="5" fill="#fff" />
<rect x="580" y="463" width="4" height="7" fill="#fff" />
<rect x="582" y="470" width="1" height="5" fill="#fff" />
<rect x="586" y="463" width="4" height="7" fill="#fff" />
<rect x="587" y="470" width="1" height="5" fill="#fff" />
<rect x="591" y="463" width="4" height="7" fill="#fff" />
<rect x="593" y="470" width="1" height="5" fill="#fff" />
<path d="M405,462.8 h11 v8.93 h-3.4 v4.03 h-7.6 Z" fill="#fff" stroke="#000" stroke-width="1.1"/>
<path d="M408.2,471.73 v-3.2 h4.4" fill="none" stroke="#000" stroke-width="1.1"/>
<path d="M609.6,462.8 h-9.6 v8.93 h3.4 v4.03 h6.2 Z" fill="#fff" stroke="#000" stroke-width="1.1"/>
<path d="M606.4,471.73 v-3.2 h-3.6" fill="none" stroke="#000" stroke-width="1.1"/>
<rect x="394" y="463" width="8" height="1" fill="#000" />
<rect x="394" y="475" width="8" height="1" fill="#000" />
<rect x="613" y="463" width="8" height="1" fill="#000" />
<rect x="613" y="475" width="8" height="1" fill="#000" />
<rect x="420" y="480" width="177" height="14" fill="#000" />
<rect x="421" y="481" width="4" height="7" fill="#fff" />
<rect x="422" y="488" width="1" height="5" fill="#fff" />
<rect x="427" y="481" width="4" height="7" fill="#fff" />
<rect x="429" y="488" width="1" height="5" fill="#fff" />
<rect x="433" y="481" width="4" height="7" fill="#fff" />
<rect x="434" y="488" width="1" height="5" fill="#fff" />
<rect x="439" y="481" width="4" height="7" fill="#fff" />
<rect x="441" y="488" width="1" height="5" fill="#fff" />
<rect x="445" y="481" width="4" height="7" fill="#fff" />
<rect x="446" y="488" width="1" height="5" fill="#fff" />
<rect x="451" y="481" width="4" height="7" fill="#fff" />
<rect x="453" y="488" width="1" height="5" fill="#fff" />
<rect x="456" y="481" width="4" height="7" fill="#fff" />
<rect x="457" y="488" width="1" height="5" fill="#fff" />
<rect x="462" y="481" width="4" height="7" fill="#fff" />
<rect x="464" y="488" width="1" height="5" fill="#fff" />
<rect x="468" y="481" width="4" height="7" fill="#fff" />
<rect x="469" y="488" width="1" height="5" fill="#fff" />
<rect x="474" y="481" width="4" height="7" fill="#fff" />
<rect x="476" y="488" width="1" height="5" fill="#fff" />
<rect x="480" y="481" width="4" height="7" fill="#fff" />
<rect x="481" y="488" width="1" height="5" fill="#fff" />
<rect x="486" y="481" width="4" height="7" fill="#fff" />
<rect x="488" y="488" width="1" height="5" fill="#fff" />
<rect x="492" y="481" width="4" height="7" fill="#fff" />
<rect x="493" y="488" width="1" height="5" fill="#fff" />
<rect x="498" y="481" width="4" height="7" fill="#fff" />
<rect x="500" y="488" width="1" height="5" fill="#fff" />
<rect x="503" y="481" width="4" height="7" fill="#fff" />
<rect x="504" y="488" width="1" height="5" fill="#fff" />
<rect x="509" y="481" width="4" height="7" fill="#fff" />
<rect x="511" y="488" width="1" height="5" fill="#fff" />
<rect x="515" y="481" width="4" height="7" fill="#fff" />
<rect x="516" y="488" width="1" height="5" fill="#fff" />
<rect x="521" y="481" width="4" height="7" fill="#fff" />
<rect x="523" y="488" width="1" height="5" fill="#fff" />
<rect x="527" y="481" width="4" height="7" fill="#fff" />
<rect x="528" y="488" width="1" height="5" fill="#fff" />
<rect x="533" y="481" width="4" height="7" fill="#fff" />
<rect x="535" y="488" width="1" height="5" fill="#fff" />
<rect x="539" y="481" width="4" height="7" fill="#fff" />
<rect x="540" y="488" width="1" height="5" fill="#fff" />
<rect x="544" y="481" width="4" height="7" fill="#fff" />
<rect x="546" y="488" width="1" height="5" fill="#fff" />
<rect x="550" y="481" width="4" height="7" fill="#fff" />
<rect x="551" y="488" width="1" height="5" fill="#fff" />
<rect x="556" y="481" width="4" height="7" fill="#fff" />
<rect x="558" y="488" width="1" height="5" fill="#fff" />
<rect x="562" y="481" width="4" height="7" fill="#fff" />
<rect x="563" y="488" width="1" height="5" fill="#fff" />
<rect x="568" y="481" width="4" height="7" fill="#fff" />
<rect x="570" y="488" width="1" height="5" fill="#fff" />
<rect x="574" y="481" width="4" height="7" fill="#fff" />
<rect x="575" y="488" width="1" height="5" fill="#fff" />
<rect x="580" y="481" width="4" height="7" fill="#fff" />
<rect x="582" y="488" width="1" height="5" fill="#fff" />
<rect x="586" y="481" width="4" height="7" fill="#fff" />
<rect x="587" y="488" width="1" height="5" fill="#fff" />
<rect x="591" y="481" width="4" height="7" fill="#fff" />
<rect x="593" y="488" width="1" height="5" fill="#fff" />
<path d="M405,481.4 h11 v8.18 h-3.4 v3.70 h-7.6 Z" fill="#fff" stroke="#000" stroke-width="1.1"/>
<path d="M408.2,489.58 v-3.2 h4.4" fill="none" stroke="#000" stroke-width="1.1"/>
<path d="M609.6,481.4 h-9.6 v8.18 h3.4 v3.70 h6.2 Z" fill="#fff" stroke="#000" stroke-width="1.1"/>
<path d="M606.4,489.58 v-3.2 h-3.6" fill="none" stroke="#000" stroke-width="1.1"/>
<rect x="394" y="481" width="8" height="1" fill="#000" />
<rect x="394" y="493" width="8" height="1" fill="#000" />
<rect x="613" y="481" width="8" height="1" fill="#000" />
<rect x="613" y="493" width="8" height="1" fill="#000" />
<rect x="420" y="504" width="177" height="14" fill="#000" />
<rect x="421" y="505" width="4" height="7" fill="#fff" />
<rect x="422" y="512" width="1" height="5" fill="#fff" />
<rect x="427" y="505" width="4" height="7" fill="#fff" />
<rect x="429" y="512" width="1" height="5" fill="#fff" />
<rect x="433" y="505" width="4" height="7" fill="#fff" />
<rect x="434" y="512" width="1" height="5" fill="#fff" />
<rect x="439" y="505" width="4" height="7" fill="#fff" />
<rect x="441" y="512" width="1" height="5" fill="#fff" />
<rect x="445" y="505" width="4" height="7" fill="#fff" />
<rect x="446" y="512" width="1" height="5" fill="#fff" />
<rect x="451" y="505" width="4" height="7" fill="#fff" />
<rect x="453" y="512" width="1" height="5" fill="#fff" />
<rect x="456" y="505" width="4" height="7" fill="#fff" />
<rect x="457" y="512" width="1" height="5" fill="#fff" />
<rect x="462" y="505" width="4" height="7" fill="#fff" />
<rect x="464" y="512" width="1" height="5" fill="#fff" />
<rect x="468" y="505" width="4" height="7" fill="#fff" />
<rect x="469" y="512" width="1" height="5" fill="#fff" />
<rect x="474" y="505" width="4" height="7" fill="#fff" />
<rect x="476" y="512" width="1" height="5" fill="#fff" />
<rect x="480" y="505" width="4" height="7" fill="#fff" />
<rect x="481" y="512" width="1" height="5" fill="#fff" />
<rect x="486" y="505" width="4" height="7" fill="#fff" />
<rect x="488" y="512" width="1" height="5" fill="#fff" />
<rect x="492" y="505" width="4" height="7" fill="#fff" />
<rect x="493" y="512" width="1" height="5" fill="#fff" />
<rect x="498" y="505" width="4" height="7" fill="#fff" />
<rect x="500" y="512" width="1" height="5" fill="#fff" />
<rect x="503" y="505" width="4" height="7" fill="#fff" />
<rect x="504" y="512" width="1" height="5" fill="#fff" />
<rect x="509" y="505" width="4" height="7" fill="#fff" />
<rect x="511" y="512" width="1" height="5" fill="#fff" />
<rect x="515" y="505" width="4" height="7" fill="#fff" />
<rect x="516" y="512" width="1" height="5" fill="#fff" />
<rect x="521" y="505" width="4" height="7" fill="#fff" />
<rect x="523" y="512" width="1" height="5" fill="#fff" />
<rect x="527" y="505" width="4" height="7" fill="#fff" />
<rect x="528" y="512" width="1" height="5" fill="#fff" />
<rect x="533" y="505" width="4" height="7" fill="#fff" />
<rect x="535" y="512" width="1" height="5" fill="#fff" />
<rect x="539" y="505" width="4" height="7" fill="#fff" />
<rect x="540" y="512" width="1" height="5" fill="#fff" />
<rect x="544" y="505" width="4" height="7" fill="#fff" />
<rect x="546" y="512" width="1" height="5" fill="#fff" />
<rect x="550" y="505" width="4" height="7" fill="#fff" />
<rect x="551" y="512" width="1" height="5" fill="#fff" />
<rect x="556" y="505" width="4" height="7" fill="#fff" />
<rect x="558" y="512" width="1" height="5" fill="#fff" />
<rect x="562" y="505" width="4" height="7" fill="#fff" />
<rect x="563" y="512" width="1" height="5" fill="#fff" />
<rect x="568" y="505" width="4" height="7" fill="#fff" />
<rect x="570" y="512" width="1" height="5" fill="#fff" />
<rect x="574" y="505" width="4" height="7" fill="#fff" />
<rect x="575" y="512" width="1" height="5" fill="#fff" />
<rect x="580" y="505" width="4" height="7" fill="#fff" />
<rect x="582" y="512" width="1" height="5" fill="#fff" />
<rect x="586" y="505" width="4" height="7" fill="#fff" />
<rect x="587" y="512" width="1" height="5" fill="#fff" />
<rect x="591" y="505" width="4" height="7" fill="#fff" />
<rect x="593" y="512" width="1" height="5" fill="#fff" />
<path d="M405,505.4 h11 v8.31 h-3.4 v3.75 h-7.6 Z" fill="#fff" stroke="#000" stroke-width="1.1"/>
<path d="M408.2,513.71 v-3.2 h4.4" fill="none" stroke="#000" stroke-width="1.1"/>
<path d="M609.6,505.4 h-9.6 v8.31 h3.4 v3.75 h6.2 Z" fill="#fff" stroke="#000" stroke-width="1.1"/>
<path d="M606.4,513.71 v-3.2 h-3.6" fill="none" stroke="#000" stroke-width="1.1"/>
<rect x="394" y="505" width="8" height="1" fill="#000" />
<rect x="394" y="517" width="8" height="1" fill="#000" />
<rect x="613" y="505" width="8" height="1" fill="#000" />
<rect x="613" y="517" width="8" height="1" fill="#000" />
<rect x="420.50" y="454.50" width="30.00" height="5.00" fill="#fff" stroke="#000" stroke-width="1" rx="0"/>
<rect x="456.50" y="454.50" width="29.00" height="5.00" fill="#fff" stroke="#000" stroke-width="1" rx="0"/>
<rect x="495.50" y="454.50" width="29.00" height="5.00" fill="#fff" stroke="#000" stroke-width="1" rx="0"/>
<rect x="530.50" y="454.50" width="29.00" height="5.00" fill="#fff" stroke="#000" stroke-width="1" rx="0"/>
<rect x="566.50" y="454.50" width="29.00" height="5.00" fill="#fff" stroke="#000" stroke-width="1" rx="0"/>
<rect x="403.50" y="454.50" width="12.00" height="5.00" fill="#fff" stroke="#000" stroke-width="1" rx="0"/>
<rect x="601.50" y="454.50" width="13.00" height="5.00" fill="#fff" stroke="#000" stroke-width="1" rx="0"/>
<rect x="420.50" y="496.50" width="30.00" height="5.00" fill="#fff" stroke="#000" stroke-width="1" rx="0"/>
<rect x="456.50" y="496.50" width="29.00" height="5.00" fill="#fff" stroke="#000" stroke-width="1" rx="0"/>
<rect x="495.50" y="496.50" width="29.00" height="5.00" fill="#fff" stroke="#000" stroke-width="1" rx="0"/>
<rect x="530.50" y="496.50" width="29.00" height="5.00" fill="#fff" stroke="#000" stroke-width="1" rx="0"/>
<rect x="566.50" y="496.50" width="29.00" height="5.00" fill="#fff" stroke="#000" stroke-width="1" rx="0"/>
<rect x="403.50" y="496.50" width="12.00" height="5.00" fill="#fff" stroke="#000" stroke-width="1" rx="0"/>
<rect x="601.50" y="496.50" width="13.00" height="5.00" fill="#fff" stroke="#000" stroke-width="1" rx="0"/>
<rect x="402" y="436" width="3" height="85" fill="#000" />
<rect x="610" y="436" width="3" height="85" fill="#000" />
<rect x="638.50" y="458.50" width="77.00" height="12.00" fill="#fff" stroke="#000" stroke-width="1" rx="0"/>
<rect x="640" y="460" width="4" height="4" fill="#000" />
<rect x="640" y="465" width="4" height="4" fill="#000" />
<rect x="646" y="460" width="4" height="4" fill="#000" />
<rect x="646" y="465" width="4" height="4" fill="#000" />
<rect x="652" y="460" width="4" height="4" fill="#000" />
<rect x="652" y="465" width="4" height="4" fill="#000" />
<rect x="657" y="460" width="4" height="4" fill="#000" />
<rect x="657" y="465" width="4" height="4" fill="#000" />
<rect x="663" y="460" width="4" height="4" fill="#000" />
<rect x="663" y="465" width="4" height="4" fill="#000" />
<rect x="669" y="460" width="4" height="4" fill="#000" />
<rect x="669" y="465" width="4" height="4" fill="#000" />
<rect x="675" y="460" width="4" height="4" fill="#000" />
<rect x="675" y="465" width="4" height="4" fill="#000" />
<rect x="680" y="460" width="4" height="4" fill="#000" />
<rect x="680" y="465" width="4" height="4" fill="#000" />
<rect x="686" y="460" width="4" height="4" fill="#000" />
<rect x="686" y="465" width="4" height="4" fill="#000" />
<rect x="692" y="460" width="4" height="4" fill="#000" />
<rect x="692" y="465" width="4" height="4" fill="#000" />
<rect x="698" y="460" width="4" height="4" fill="#000" />
<rect x="698" y="465" width="4" height="4" fill="#000" />
<rect x="703" y="460" width="4" height="4" fill="#000" />
<rect x="703" y="465" width="4" height="4" fill="#000" />
<rect x="709.50" y="460.50" width="3.00" height="3.00" fill="#fff" stroke="#000" stroke-width="1" rx="0"/>
<rect x="709" y="465" width="4" height="4" fill="#000" />
<rect x="777" y="397" width="31" height="13" fill="#000" />
<rect x="778" y="403" width="29" height="1" fill="#fff" />
<rect x="783" y="398" width="2" height="11" fill="#fff" />
<rect x="789" y="398" width="2" height="11" fill="#fff" />
<rect x="795" y="398" width="2" height="11" fill="#fff" />
<rect x="801" y="398" width="2" height="11" fill="#fff" />
<rect x="801" y="398" width="6" height="5" fill="#fff" />
<rect x="804.50" y="399.50" width="1.00" height="2.00" fill="#fff" stroke="#000" stroke-width="1" rx="0"/>
<rect x="776" y="419" width="32" height="12" fill="#000" />
<rect x="777" y="425" width="30" height="1" fill="#fff" />
<rect x="782" y="420" width="2" height="10" fill="#fff" />
<rect x="788" y="420" width="2" height="10" fill="#fff" />
<rect x="795" y="420" width="2" height="10" fill="#fff" />
<rect x="801" y="420" width="2" height="10" fill="#fff" />
<rect x="801" y="420" width="6" height="5" fill="#fff" />
<rect x="804.50" y="421.50" width="1.00" height="2.00" fill="#fff" stroke="#000" stroke-width="1" rx="0"/>
<rect x="708" y="392" width="26" height="7" fill="#000" />
<rect x="709" y="393" width="1" height="5" fill="#fff" />
<rect x="714" y="393" width="1" height="5" fill="#fff" />
<rect x="718" y="393" width="1" height="5" fill="#fff" />
<rect x="723" y="393" width="1" height="5" fill="#fff" />
<rect x="727" y="393" width="1" height="5" fill="#fff" />
<rect x="732" y="393" width="1" height="5" fill="#fff" />
<rect x="711" y="394" width="2" height="3" fill="#fff" />
<rect x="637.50" y="494.50" width="111.00" height="23.00" fill="#fff" stroke="#000" stroke-width="1" rx="0"/>
<rect x="638" y="502" width="110" height="1" fill="#000" />
<rect x="640" y="497" width="4" height="2" fill="#000" />
<rect x="639" y="498" width="7" height="2" fill="#000" />
<rect x="641" y="500" width="3" height="2" fill="#000" />
<rect x="639.50" y="504.50" width="6.00" height="2.00" fill="#fff" stroke="#000" stroke-width="1" rx="0"/>
<rect x="642.50" y="508.50" width="7.00" height="6.00" fill="#fff" stroke="#000" stroke-width="1" rx="0"/>
<rect x="650" y="497" width="4" height="2" fill="#000" />
<rect x="648" y="498" width="7" height="2" fill="#000" />
<rect x="650" y="500" width="3" height="2" fill="#000" />
<rect x="648.50" y="504.50" width="6.00" height="2.00" fill="#fff" stroke="#000" stroke-width="1" rx="0"/>
<rect x="651.50" y="508.50" width="7.00" height="6.00" fill="#fff" stroke="#000" stroke-width="1" rx="0"/>
<rect x="659" y="497" width="4" height="2" fill="#000" />
<rect x="657" y="498" width="7" height="2" fill="#000" />
<rect x="659" y="500" width="3" height="2" fill="#000" />
<rect x="657.50" y="504.50" width="6.00" height="2.00" fill="#fff" stroke="#000" stroke-width="1" rx="0"/>
<rect x="660.50" y="508.50" width="7.00" height="6.00" fill="#fff" stroke="#000" stroke-width="1" rx="0"/>
<rect x="668" y="497" width="4" height="2" fill="#000" />
<rect x="666" y="498" width="7" height="2" fill="#000" />
<rect x="668" y="500" width="3" height="2" fill="#000" />
<rect x="666.50" y="504.50" width="6.00" height="2.00" fill="#fff" stroke="#000" stroke-width="1" rx="0"/>
<rect x="669.50" y="508.50" width="7.00" height="6.00" fill="#fff" stroke="#000" stroke-width="1" rx="0"/>
<rect x="677" y="497" width="4" height="2" fill="#000" />
<rect x="675" y="498" width="7" height="2" fill="#000" />
<rect x="677" y="500" width="3" height="2" fill="#000" />
<rect x="675.50" y="504.50" width="6.00" height="2.00" fill="#fff" stroke="#000" stroke-width="1" rx="0"/>
<rect x="678.50" y="508.50" width="7.00" height="6.00" fill="#fff" stroke="#000" stroke-width="1" rx="0"/>
<rect x="686" y="497" width="4" height="2" fill="#000" />
<rect x="684" y="498" width="7" height="2" fill="#000" />
<rect x="686" y="500" width="3" height="2" fill="#000" />
<rect x="684.50" y="504.50" width="6.00" height="2.00" fill="#fff" stroke="#000" stroke-width="1" rx="0"/>
<rect x="687.50" y="508.50" width="7.00" height="6.00" fill="#fff" stroke="#000" stroke-width="1" rx="0"/>
<rect x="695" y="497" width="4" height="2" fill="#000" />
<rect x="693" y="498" width="7" height="2" fill="#000" />
<rect x="695" y="500" width="3" height="2" fill="#000" />
<rect x="693.50" y="504.50" width="6.00" height="2.00" fill="#fff" stroke="#000" stroke-width="1" rx="0"/>
<rect x="696.50" y="508.50" width="7.00" height="6.00" fill="#fff" stroke="#000" stroke-width="1" rx="0"/>
<rect x="704" y="497" width="4" height="2" fill="#000" />
<rect x="702" y="498" width="7" height="2" fill="#000" />
<rect x="704" y="500" width="3" height="2" fill="#000" />
<rect x="702.50" y="504.50" width="6.00" height="2.00" fill="#fff" stroke="#000" stroke-width="1" rx="0"/>
<rect x="705.50" y="508.50" width="7.00" height="6.00" fill="#fff" stroke="#000" stroke-width="1" rx="0"/>
<rect x="713" y="497" width="4" height="2" fill="#000" />
<rect x="711" y="498" width="7" height="2" fill="#000" />
<rect x="713" y="500" width="3" height="2" fill="#000" />
<rect x="711.50" y="504.50" width="6.00" height="2.00" fill="#fff" stroke="#000" stroke-width="1" rx="0"/>
<rect x="714.50" y="508.50" width="7.00" height="6.00" fill="#fff" stroke="#000" stroke-width="1" rx="0"/>
<rect x="722" y="497" width="4" height="2" fill="#000" />
<rect x="720" y="498" width="7" height="2" fill="#000" />
<rect x="722" y="500" width="3" height="2" fill="#000" />
<rect x="720.50" y="504.50" width="6.00" height="2.00" fill="#fff" stroke="#000" stroke-width="1" rx="0"/>
<rect x="723.50" y="508.50" width="7.00" height="6.00" fill="#fff" stroke="#000" stroke-width="1" rx="0"/>
<rect x="731" y="497" width="4" height="2" fill="#000" />
<rect x="729" y="498" width="7" height="2" fill="#000" />
<rect x="731" y="500" width="3" height="2" fill="#000" />
<rect x="729.50" y="504.50" width="6.00" height="2.00" fill="#fff" stroke="#000" stroke-width="1" rx="0"/>
<rect x="732.50" y="508.50" width="7.00" height="6.00" fill="#fff" stroke="#000" stroke-width="1" rx="0"/>
<rect x="740" y="497" width="4" height="2" fill="#000" />
<rect x="738" y="498" width="7" height="2" fill="#000" />
<rect x="740" y="500" width="3" height="2" fill="#000" />
<rect x="738.50" y="504.50" width="6.00" height="2.00" fill="#fff" stroke="#000" stroke-width="1" rx="0"/>
<rect x="741.50" y="508.50" width="7.00" height="6.00" fill="#fff" stroke="#000" stroke-width="1" rx="0"/>
<rect x="637" y="509" width="3" height="5" fill="#000" />
<rect x="638" y="510" width="1" height="3" fill="#fff" />
<rect x="746" y="509" width="3" height="5" fill="#000" />
<rect x="747" y="510" width="1" height="3" fill="#fff" />
<rect x="782" y="440" width="24" height="39" fill="#000" />
<rect x="806" y="435" width="7" height="50" fill="#000" />
<rect x="775.50" y="450.50" width="6.00" height="7.00" fill="#fff" stroke="#000" stroke-width="1" rx="0"/>
<rect x="775.50" y="461.50" width="6.00" height="8.00" fill="#fff" stroke="#000" stroke-width="1" rx="0"/>
<rect x="75.50" y="26.20" width="34.70" height="18.70" rx="3.2" fill="#000"/>
<rect x="77.50" y="28.20" width="30.20" height="13.70" rx="1.2000000000000002" fill="#fff"/>
<polygon points="76.30,40.30 69.50,51.80 80.10,43.70 80.00,39.40" fill="#fff"/>
<path d="M76.30,40.30 L69.50,51.80 L80.10,43.70" fill="none" stroke="#000" stroke-width="1.7" stroke-linejoin="round" stroke-linecap="round"/>
<rect x="79.30" y="54.20" width="35.70" height="17.80" rx="3.2" fill="#000"/>
<rect x="81.30" y="56.20" width="31.20" height="12.80" rx="1.2000000000000002" fill="#fff"/>
<polygon points="80.10,59.40 64.40,62.60 80.10,65.80 83.30,62.60" fill="#fff"/>
<path d="M80.10,59.40 L64.40,62.60 L80.10,65.80" fill="none" stroke="#000" stroke-width="1.7" stroke-linejoin="round" stroke-linecap="round"/>
<rect x="5.20" y="51.40" width="24.70" height="18.70" rx="3.2" fill="#000"/>
<rect x="7.20" y="53.40" width="20.20" height="13.70" rx="1.2000000000000002" fill="#fff"/>
<polygon points="24.80,68.90 37.00,76.00 28.90,65.50 24.40,64.60" fill="#fff"/>
<path d="M24.80,68.90 L37.00,76.00 L28.90,65.50" fill="none" stroke="#000" stroke-width="1.7" stroke-linejoin="round" stroke-linecap="round"/>
<rect x="58.90" y="94.50" width="33.70" height="18.50" rx="3.2" fill="#000"/>
<rect x="60.90" y="96.50" width="29.20" height="13.50" rx="1.2000000000000002" fill="#fff"/>
<polygon points="59.70,98.30 52.60,89.00 63.50,95.30 63.40,99.00" fill="#fff"/>
<path d="M59.70,98.30 L52.60,89.00 L63.50,95.30" fill="none" stroke="#000" stroke-width="1.7" stroke-linejoin="round" stroke-linecap="round"/>
<rect x="4.20" y="107.00" width="26.00" height="18.40" rx="3.2" fill="#000"/>
<rect x="6.20" y="109.00" width="21.50" height="13.40" rx="1.2000000000000002" fill="#fff"/>
<polygon points="25.60,107.80 36.80,100.60 29.20,110.80 25.20,111.50" fill="#fff"/>
<path d="M25.60,107.80 L36.80,100.60 L29.20,110.80" fill="none" stroke="#000" stroke-width="1.7" stroke-linejoin="round" stroke-linecap="round"/>
<rect x="161.00" y="77.10" width="33.90" height="17.80" rx="3.2" fill="#000"/>
<rect x="163.00" y="79.10" width="29.40" height="12.80" rx="1.2000000000000002" fill="#fff"/>
<polygon points="190.30,77.90 201.20,70.40 193.90,80.90 189.90,81.60" fill="#fff"/>
<path d="M190.30,77.90 L201.20,70.40 L193.90,80.90" fill="none" stroke="#000" stroke-width="1.7" stroke-linejoin="round" stroke-linecap="round"/>
<rect x="396.20" y="10.00" width="39.60" height="18.70" rx="3.2" fill="#000"/>
<rect x="398.20" y="12.00" width="35.10" height="13.70" rx="1.2000000000000002" fill="#fff"/>
<polygon points="397.00,24.10 388.60,34.20 400.80,27.50 400.70,23.20" fill="#fff"/>
<path d="M397.00,24.10 L388.60,34.20 L400.80,27.50" fill="none" stroke="#000" stroke-width="1.7" stroke-linejoin="round" stroke-linecap="round"/>
<rect x="365.00" y="62.20" width="34.70" height="18.20" rx="3.2" fill="#000"/>
<rect x="367.00" y="64.20" width="30.20" height="13.20" rx="1.2000000000000002" fill="#fff"/>
<polygon points="395.10,63.00 405.20,55.80 398.70,66.00 394.70,66.70" fill="#fff"/>
<path d="M395.10,63.00 L405.20,55.80 L398.70,66.00" fill="none" stroke="#000" stroke-width="1.7" stroke-linejoin="round" stroke-linecap="round"/>
<rect x="105.20" y="139.00" width="32.50" height="18.50" rx="5" fill="#000"/>
<rect x="107.20" y="141.00" width="28.50" height="14.50" rx="3" fill="#fff"/>
<rect x="223.90" y="170.00" width="34.70" height="18.70" rx="3.2" fill="#000"/>
<rect x="225.90" y="172.00" width="30.20" height="13.70" rx="1.2000000000000002" fill="#fff"/>
<polygon points="253.50,187.50 265.00,194.80 257.60,184.10 253.10,183.20" fill="#fff"/>
<path d="M253.50,187.50 L265.00,194.80 L257.60,184.10" fill="none" stroke="#000" stroke-width="1.7" stroke-linejoin="round" stroke-linecap="round"/>
<rect x="274.40" y="216.80" width="35.10" height="18.80" rx="3.2" fill="#000"/>
<rect x="276.40" y="218.80" width="30.60" height="13.80" rx="1.2000000000000002" fill="#fff"/>
<polygon points="308.50,222.80 324.80,226.00 308.50,229.20 305.00,226.00" fill="#fff"/>
<path d="M308.50,222.80 L324.80,226.00 L308.50,229.20" fill="none" stroke="#000" stroke-width="1.7" stroke-linejoin="round" stroke-linecap="round"/>
<rect x="34.60" y="243.30" width="33.80" height="18.40" rx="3.2" fill="#000"/>
<rect x="36.60" y="245.30" width="29.30" height="13.40" rx="1.2000000000000002" fill="#fff"/>
<polygon points="63.30,260.50 75.20,268.00 67.40,257.10 62.90,256.20" fill="#fff"/>
<path d="M63.30,260.50 L75.20,268.00 L67.40,257.10" fill="none" stroke="#000" stroke-width="1.7" stroke-linejoin="round" stroke-linecap="round"/>
<rect x="21.50" y="279.20" width="33.40" height="18.00" rx="3.2" fill="#000"/>
<rect x="23.50" y="281.20" width="28.90" height="13.00" rx="1.2000000000000002" fill="#fff"/>
<polygon points="49.80,296.00 61.20,303.60 53.90,292.60 49.40,291.70" fill="#fff"/>
<path d="M49.80,296.00 L61.20,303.60 L53.90,292.60" fill="none" stroke="#000" stroke-width="1.7" stroke-linejoin="round" stroke-linecap="round"/>
<rect x="40.70" y="322.60" width="32.30" height="17.80" rx="3.2" fill="#000"/>
<rect x="42.70" y="324.60" width="27.80" height="12.80" rx="1.2000000000000002" fill="#fff"/>
<polygon points="68.40,323.40 80.00,316.60 72.00,326.40 68.00,327.10" fill="#fff"/>
<path d="M68.40,323.40 L80.00,316.60 L72.00,326.40" fill="none" stroke="#000" stroke-width="1.7" stroke-linejoin="round" stroke-linecap="round"/>
<rect x="165.80" y="352.10" width="35.60" height="17.60" rx="3.2" fill="#000"/>
<rect x="167.80" y="354.10" width="31.10" height="12.60" rx="1.2000000000000002" fill="#fff"/>
<polygon points="200.40,357.80 217.00,361.00 200.40,364.20 196.90,361.00" fill="#fff"/>
<path d="M200.40,357.80 L217.00,361.00 L200.40,364.20" fill="none" stroke="#000" stroke-width="1.7" stroke-linejoin="round" stroke-linecap="round"/>
<rect x="284.30" y="412.00" width="39.20" height="18.20" rx="3.2" fill="#000"/>
<rect x="286.30" y="414.00" width="34.70" height="13.20" rx="1.2000000000000002" fill="#fff"/>
<polygon points="285.10,425.60 277.20,436.60 288.90,429.00 288.80,424.70" fill="#fff"/>
<path d="M285.10,425.60 L277.20,436.60 L288.90,429.00" fill="none" stroke="#000" stroke-width="1.7" stroke-linejoin="round" stroke-linecap="round"/>
<rect x="360.10" y="250.20" width="33.30" height="17.60" rx="3.2" fill="#000"/>
<rect x="362.10" y="252.20" width="28.80" height="12.60" rx="1.2000000000000002" fill="#fff"/>
<polygon points="373.00,266.60 376.00,284.80 379.00,266.60 376.00,262.80" fill="#fff"/>
<path d="M373.00,266.60 L376.00,284.80 L379.00,266.60" fill="none" stroke="#000" stroke-width="1.7" stroke-linejoin="round" stroke-linecap="round"/>
<rect x="349.10" y="350.00" width="34.10" height="18.50" rx="3.2" fill="#000"/>
<rect x="351.10" y="352.00" width="29.60" height="13.50" rx="1.2000000000000002" fill="#fff"/>
<polygon points="364.00,350.80 367.00,334.60 370.00,350.80 367.00,354.00" fill="#fff"/>
<path d="M364.00,350.80 L367.00,334.60 L370.00,350.80" fill="none" stroke="#000" stroke-width="1.7" stroke-linejoin="round" stroke-linecap="round"/>
<rect x="580.40" y="318.20" width="40.60" height="18.60" rx="3.2" fill="#000"/>
<rect x="582.40" y="320.20" width="36.10" height="13.60" rx="1.2000000000000002" fill="#fff"/>
<polygon points="620.00,324.00 637.00,327.20 620.00,330.40 616.50,327.20" fill="#fff"/>
<path d="M620.00,324.00 L637.00,327.20 L620.00,330.40" fill="none" stroke="#000" stroke-width="1.7" stroke-linejoin="round" stroke-linecap="round"/>
<rect x="608.20" y="344.50" width="37.40" height="17.50" rx="3.2" fill="#000"/>
<rect x="610.20" y="346.50" width="32.90" height="12.50" rx="1.2000000000000002" fill="#fff"/>
<polygon points="641.00,345.30 652.80,338.00 644.60,348.30 640.60,349.00" fill="#fff"/>
<path d="M641.00,345.30 L652.80,338.00 L644.60,348.30" fill="none" stroke="#000" stroke-width="1.7" stroke-linejoin="round" stroke-linecap="round"/>
<rect x="707.30" y="343.30" width="38.60" height="17.90" rx="3.2" fill="#000"/>
<rect x="709.30" y="345.30" width="34.10" height="12.90" rx="1.2000000000000002" fill="#fff"/>
<polygon points="708.10,347.10 700.60,337.00 711.90,344.10 711.80,347.80" fill="#fff"/>
<path d="M708.10,347.10 L700.60,337.00 L711.90,344.10" fill="none" stroke="#000" stroke-width="1.7" stroke-linejoin="round" stroke-linecap="round"/>
<rect x="731.30" y="314.50" width="41.40" height="17.90" rx="3.2" fill="#000"/>
<rect x="733.30" y="316.50" width="36.90" height="12.90" rx="1.2000000000000002" fill="#fff"/>
<polygon points="732.10,320.40 716.20,323.60 732.10,326.80 735.30,323.60" fill="#fff"/>
<path d="M732.10,320.40 L716.20,323.60 L732.10,326.80" fill="none" stroke="#000" stroke-width="1.7" stroke-linejoin="round" stroke-linecap="round"/>
<rect x="717.10" y="366.20" width="41.00" height="18.10" rx="3.2" fill="#000"/>
<rect x="719.10" y="368.20" width="36.50" height="13.10" rx="1.2000000000000002" fill="#fff"/>
<polygon points="757.10,371.80 773.00,375.00 757.10,378.20 753.60,375.00" fill="#fff"/>
<path d="M757.10,371.80 L773.00,375.00 L757.10,378.20" fill="none" stroke="#000" stroke-width="1.7" stroke-linejoin="round" stroke-linecap="round"/>
<rect x="796.70" y="337.20" width="39.30" height="18.10" rx="3.2" fill="#000"/>
<rect x="798.70" y="339.20" width="34.80" height="13.10" rx="1.2000000000000002" fill="#fff"/>
<polygon points="797.50,350.70 789.80,361.80 801.30,354.10 801.20,349.80" fill="#fff"/>
<path d="M797.50,350.70 L789.80,361.80 L801.30,354.10" fill="none" stroke="#000" stroke-width="1.7" stroke-linejoin="round" stroke-linecap="round"/>
<rect x="819.20" y="366.20" width="41.90" height="17.60" rx="3.2" fill="#000"/>
<rect x="821.20" y="368.20" width="37.40" height="12.60" rx="1.2000000000000002" fill="#fff"/>
<polygon points="820.00,371.80 804.60,375.00 820.00,378.20 823.20,375.00" fill="#fff"/>
<path d="M820.00,371.80 L804.60,375.00 L820.00,378.20" fill="none" stroke="#000" stroke-width="1.7" stroke-linejoin="round" stroke-linecap="round"/>
<rect x="681.30" y="406.80" width="33.40" height="18.60" rx="3.2" fill="#000"/>
<rect x="683.30" y="408.80" width="28.90" height="13.60" rx="1.2000000000000002" fill="#fff"/>
<polygon points="710.10,407.60 722.20,400.60 713.70,410.60 709.70,411.30" fill="#fff"/>
<path d="M710.10,407.60 L722.20,400.60 L713.70,410.60" fill="none" stroke="#000" stroke-width="1.7" stroke-linejoin="round" stroke-linecap="round"/>
<rect x="733.20" y="409.80" width="34.70" height="17.40" rx="3.2" fill="#000"/>
<rect x="735.20" y="411.80" width="30.20" height="12.40" rx="1.2000000000000002" fill="#fff"/>
<polygon points="763.30,410.60 774.20,403.40 766.90,413.60 762.90,414.30" fill="#fff"/>
<path d="M763.30,410.60 L774.20,403.40 L766.90,413.60" fill="none" stroke="#000" stroke-width="1.7" stroke-linejoin="round" stroke-linecap="round"/>
<rect x="733.20" y="430.80" width="34.70" height="18.60" rx="3.2" fill="#000"/>
<rect x="735.20" y="432.80" width="30.20" height="13.60" rx="1.2000000000000002" fill="#fff"/>
<polygon points="763.30,431.60 774.20,424.40 766.90,434.60 762.90,435.30" fill="#fff"/>
<path d="M763.30,431.60 L774.20,424.40 L766.90,434.60" fill="none" stroke="#000" stroke-width="1.7" stroke-linejoin="round" stroke-linecap="round"/>
<rect x="636.10" y="430.40" width="34.90" height="18.30" rx="3.2" fill="#000"/>
<rect x="638.10" y="432.40" width="30.40" height="13.30" rx="1.2000000000000002" fill="#fff"/>
<polygon points="665.90,447.50 675.80,455.40 670.00,444.10 665.50,443.20" fill="#fff"/>
<path d="M665.90,447.50 L675.80,455.40 L670.00,444.10" fill="none" stroke="#000" stroke-width="1.7" stroke-linejoin="round" stroke-linecap="round"/>
<rect x="128.00" y="437.60" width="48.20" height="17.40" rx="2.5" fill="#000"/>
<rect x="129.00" y="438.60" width="46.20" height="15.40" rx="0.5" fill="#fff"/>
<rect x="478.30" y="380.10" width="59.60" height="18.00" rx="3" fill="#000"/>
<rect x="480.10" y="381.90" width="55.20" height="14.40" rx="1" fill="#fff"/>
<rect x="478.30" y="469.40" width="59.70" height="17.10" rx="3" fill="#000"/>
<rect x="480.10" y="471.00" width="55.50" height="13.60" rx="1" fill="#fff"/>
<rect x="165.00" y="26.30" width="28.00" height="14.30" rx="0" fill="#fff"/>
<rect x="285.80" y="26.70" width="41.50" height="14.60" rx="3" fill="#fff"/>
<rect x="141.90" y="275.90" width="28.10" height="14.00" rx="0" fill="#fff"/>
<rect x="622.20" y="286.00" width="35.00" height="13.80" rx="0" fill="#fff"/>
<polygon points="653.50,298.60 665.20,309.00 656.20,296.40 651.70,294.30" fill="#fff"/>
<path d="M653.50,298.60 L665.20,309.00 L656.20,296.40" fill="none" stroke="#000" stroke-width="1.7" stroke-linejoin="round" stroke-linecap="round"/>
<rect x="697.80" y="286.00" width="35.40" height="14.40" rx="0" fill="#fff"/>
<polygon points="698.60,297.00 689.20,308.60 701.00,299.20 702.30,294.90" fill="#fff"/>
<path d="M698.60,297.00 L689.20,308.60 L701.00,299.20" fill="none" stroke="#000" stroke-width="1.7" stroke-linejoin="round" stroke-linecap="round"/>
<rect x="654.00" y="357.00" width="38.00" height="14.40" rx="0" fill="#fff"/>
<polygon points="675.40,357.80 677.00,338.40 678.60,357.80 677.00,361.00" fill="#fff"/>
<path d="M675.40,357.80 L677.00,338.40 L678.60,357.80" fill="none" stroke="#000" stroke-width="1.7" stroke-linejoin="round" stroke-linecap="round"/>
</g>
<g filter="url(#tw)">
<text transform="translate(657.70,54.80) scale(0.88,1)" font-size="11.2" letter-spacing="1.24">MH0945</text>
<text transform="translate(81.00,39.80) scale(0.78,1)" font-size="14" letter-spacing="1.40">J23</text>
<text transform="translate(85.60,66.50) scale(0.78,1)" font-size="14" letter-spacing="1.15">J24</text>
<text transform="translate(10.00,64.00) scale(0.78,1)" font-size="14" letter-spacing="0.99">J2</text>
<text transform="translate(63.70,107.80) scale(0.78,1)" font-size="14" letter-spacing="2.04">J28</text>
<text transform="translate(17.49,120.70) scale(0.78,1)" font-size="14" letter-spacing="2.29" text-anchor="middle">J1</text>
<text transform="translate(165.70,90.00) scale(0.78,1)" font-size="14" letter-spacing="1.66">JP1</text>
<text transform="translate(399.70,23.00) scale(0.78,1)" font-size="14" letter-spacing="1.80">JP14</text>
<text transform="translate(369.90,75.60) scale(0.78,1)" font-size="14" letter-spacing="2.10">JP2</text>
<text transform="translate(108.80,152.40) scale(0.78,1)" font-size="14" letter-spacing="1.18">NPU</text>
<text transform="translate(229.20,183.00) scale(0.78,1)" font-size="14" letter-spacing="1.08">JP4</text>
<text transform="translate(280.40,229.80) scale(0.78,1)" font-size="14" letter-spacing="1.72">JP3</text>
<text transform="translate(39.80,256.60) scale(0.78,1)" font-size="14" letter-spacing="1.59">JP5</text>
<text transform="translate(26.70,292.00) scale(0.78,1)" font-size="14" letter-spacing="1.33">JP6</text>
<text transform="translate(44.00,335.80) scale(0.78,1)" font-size="14" letter-spacing="1.98">JP7</text>
<text transform="translate(171.50,365.00) scale(0.78,1)" font-size="14" letter-spacing="1.98">JP9</text>
<text transform="translate(287.80,425.40) scale(0.78,1)" font-size="14" letter-spacing="1.67">JP10</text>
<text transform="translate(364.80,263.20) scale(0.78,1)" font-size="14" letter-spacing="1.34">J20</text>
<text transform="translate(354.30,363.60) scale(0.78,1)" font-size="14" letter-spacing="1.47">J19</text>
<text transform="translate(584.00,331.00) scale(0.78,1)" font-size="14" letter-spacing="1.93">JP26</text>
<text transform="translate(610.60,357.00) scale(0.78,1)" font-size="14" letter-spacing="1.33">JP25</text>
<text transform="translate(711.00,356.00) scale(0.78,1)" font-size="14" letter-spacing="1.50">JP16</text>
<text transform="translate(735.60,327.00) scale(0.78,1)" font-size="14" letter-spacing="1.97">JP15</text>
<text transform="translate(721.00,379.00) scale(0.78,1)" font-size="14" letter-spacing="1.89">JP29</text>
<text transform="translate(800.00,350.40) scale(0.78,1)" font-size="14" letter-spacing="1.97">JP28</text>
<text transform="translate(822.90,379.00) scale(0.78,1)" font-size="14" letter-spacing="1.97">JP27</text>
<text transform="translate(687.80,420.00) scale(0.78,1)" font-size="14" letter-spacing="1.34">J10</text>
<text transform="translate(738.40,422.80) scale(0.78,1)" font-size="14" letter-spacing="2.04">J22</text>
<text transform="translate(739.10,444.00) scale(0.78,1)" font-size="14" letter-spacing="1.28">J21</text>
<text transform="translate(640.90,444.00) scale(0.78,1)" font-size="14" letter-spacing="1.98">J27</text>
<text transform="translate(130.10,449.80) scale(0.78,1)" font-size="14" letter-spacing="1.60">CACHE</text>
<text transform="translate(482.30,393.00) scale(0.78,1)" font-size="14" letter-spacing="1.84">BANK 0</text>
<text transform="translate(484.00,481.00) scale(0.78,1)" font-size="14" letter-spacing="1.40">BANK 1</text>
<text transform="translate(166.40,38.00) scale(0.78,1)" font-size="14" letter-spacing="2.02">KBD</text>
<text transform="translate(291.00,39.00) scale(0.78,1)" font-size="14" letter-spacing="2.14">BIOS</text>
<text transform="translate(143.00,287.00) scale(0.78,1)" font-size="14" letter-spacing="1.50">CPU</text>
<text transform="translate(624.00,296.80) scale(0.78,1)" font-size="14" letter-spacing="1.93">JP19</text>
<text transform="translate(700.10,297.00) scale(0.78,1)" font-size="14" letter-spacing="0.82">JP17</text>
<text transform="translate(657.00,367.80) scale(0.78,1)" font-size="14" letter-spacing="1.46">JP18</text>
</g>
</svg>
</body></html>
